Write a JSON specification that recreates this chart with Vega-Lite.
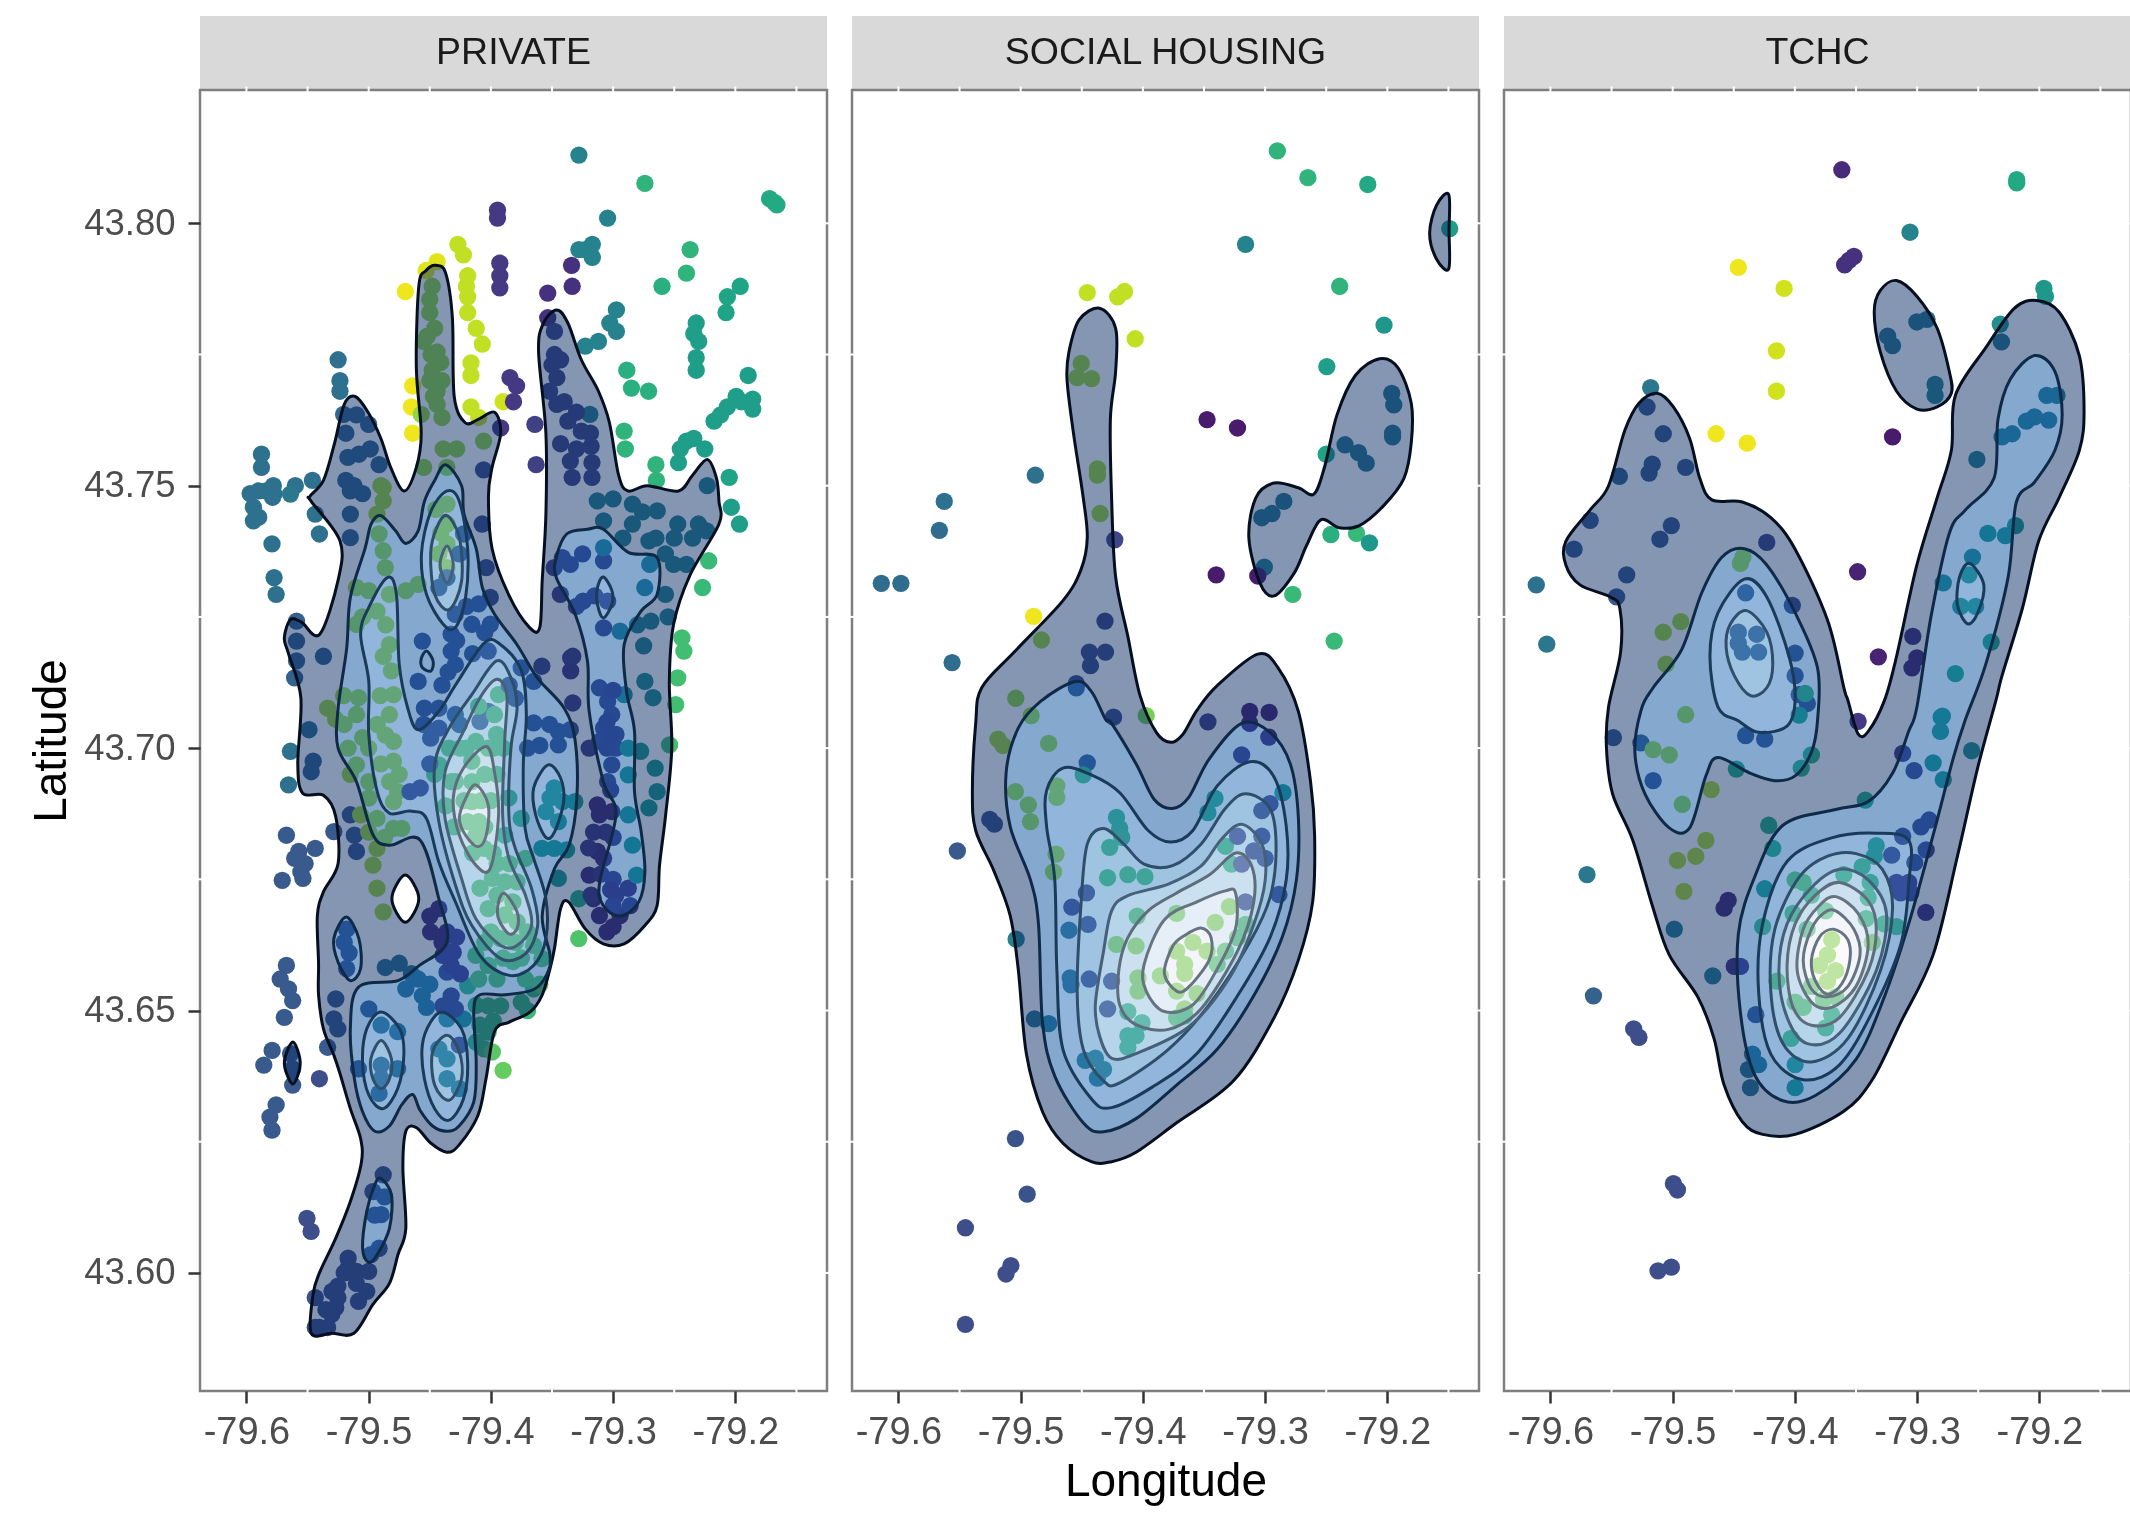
{"$schema":"https://vega.github.io/schema/vega-lite/v6.json","background":"white","autosize":{"type":"pad"},"padding":{"left":27,"top":16,"right":0,"bottom":0},"config":{"font":"Liberation Sans","locale":{"number":{"decimal":".","thousands":",","grouping":[3],"currency":["$",""],"minus":"-"}},"axisX":{"labelFontSize":38,"labelPadding":10,"titlePadding":8},"axisY":{"labelFontSize":36.5,"labelPadding":13,"titlePadding":8},"axis":{"grid":false,"domain":false,"labelColor":"#4d4d4d","tickColor":"#333333","tickWidth":2.5,"tickSize":12,"titleFontSize":46,"titleFontWeight":"normal","titleColor":"#000000"}},"datasets":{
"inv":[{"x":-79.638,"x2":-79.125,"y":43.5775,"y2":43.8254}],
"gt":[{"x":-79.6,"y":43.8254},{"x":-79.55,"y":43.8254},{"x":-79.5,"y":43.8254},{"x":-79.45,"y":43.8254},{"x":-79.4,"y":43.8254},{"x":-79.35,"y":43.8254},{"x":-79.3,"y":43.8254},{"x":-79.25,"y":43.8254},{"x":-79.2,"y":43.8254},{"x":-79.15,"y":43.8254},{"x":-79.55,"y":43.5775},{"x":-79.45,"y":43.5775},{"x":-79.35,"y":43.5775},{"x":-79.25,"y":43.5775},{"x":-79.15,"y":43.5775}],
"gr":[{"x":-79.125,"y":43.6},{"x":-79.125,"y":43.625},{"x":-79.125,"y":43.65},{"x":-79.125,"y":43.675},{"x":-79.125,"y":43.7},{"x":-79.125,"y":43.725},{"x":-79.125,"y":43.75},{"x":-79.125,"y":43.775},{"x":-79.125,"y":43.8},{"x":-79.638,"y":43.625},{"x":-79.638,"y":43.675},{"x":-79.638,"y":43.725},{"x":-79.638,"y":43.775}],
"pa":[{"x":-79.328,"y":43.813,"w":20},{"x":-79.274,"y":43.8076,"w":29},{"x":-79.168,"y":43.804,"w":27},{"x":-79.166,"y":43.8035,"w":27},{"x":-79.172,"y":43.8047,"w":27},{"x":-79.3045,"y":43.801,"w":20},{"x":-79.3946,"y":43.8025,"w":8},{"x":-79.3946,"y":43.801,"w":8},{"x":-79.328,"y":43.795,"w":20},{"x":-79.317,"y":43.796,"w":20},{"x":-79.317,"y":43.7935,"w":20},{"x":-79.3227,"y":43.795,"w":20},{"x":-79.237,"y":43.795,"w":29},{"x":-79.24,"y":43.7905,"w":29},{"x":-79.26,"y":43.788,"w":28},{"x":-79.196,"y":43.788,"w":26},{"x":-79.2065,"y":43.786,"w":26},{"x":-79.2076,"y":43.783,"w":26},{"x":-79.334,"y":43.792,"w":7},{"x":-79.3335,"y":43.788,"w":7},{"x":-79.3535,"y":43.7867,"w":7},{"x":-79.3535,"y":43.782,"w":7},{"x":-79.3927,"y":43.7924,"w":8},{"x":-79.3927,"y":43.79,"w":8},{"x":-79.3927,"y":43.7877,"w":8},{"x":-79.427,"y":43.796,"w":40},{"x":-79.4225,"y":43.794,"w":40},{"x":-79.444,"y":43.7927,"w":42},{"x":-79.453,"y":43.791,"w":42},{"x":-79.47,"y":43.787,"w":43},{"x":-79.419,"y":43.79,"w":40},{"x":-79.42,"y":43.788,"w":40},{"x":-79.419,"y":43.786,"w":40},{"x":-79.419,"y":43.783,"w":40},{"x":-79.412,"y":43.78,"w":40},{"x":-79.407,"y":43.777,"w":40},{"x":-79.4163,"y":43.7734,"w":40},{"x":-79.4163,"y":43.771,"w":40},{"x":-79.4163,"y":43.765,"w":40},{"x":-79.41,"y":43.763,"w":40},{"x":-79.39,"y":43.766,"w":41},{"x":-79.464,"y":43.769,"w":43},{"x":-79.465,"y":43.765,"w":43},{"x":-79.464,"y":43.76,"w":43},{"x":-79.448,"y":43.788,"w":37},{"x":-79.45,"y":43.783,"w":37},{"x":-79.455,"y":43.7775,"w":37},{"x":-79.444,"y":43.7755,"w":37},{"x":-79.448,"y":43.772,"w":37},{"x":-79.444,"y":43.768,"w":37},{"x":-79.444,"y":43.7655,"w":37},{"x":-79.457,"y":43.7636,"w":37},{"x":-79.439,"y":43.757,"w":37},{"x":-79.428,"y":43.757,"w":37},{"x":-79.406,"y":43.7585,"w":37},{"x":-79.455,"y":43.7535,"w":37},{"x":-79.49,"y":43.75,"w":37},{"x":-79.3844,"y":43.7706,"w":8},{"x":-79.379,"y":43.769,"w":8},{"x":-79.3815,"y":43.766,"w":8},{"x":-79.392,"y":43.761,"w":8},{"x":-79.364,"y":43.7617,"w":9},{"x":-79.363,"y":43.754,"w":9},{"x":-79.406,"y":43.753,"w":11},{"x":-79.348,"y":43.7794,"w":10},{"x":-79.348,"y":43.775,"w":10},{"x":-79.346,"y":43.7706,"w":10},{"x":-79.346,"y":43.7655,"w":10},{"x":-79.337,"y":43.7623,"w":10},{"x":-79.326,"y":43.7604,"w":10},{"x":-79.3186,"y":43.76,"w":10},{"x":-79.335,"y":43.7547,"w":10},{"x":-79.3335,"y":43.7516,"w":10},{"x":-79.3173,"y":43.7544,"w":10},{"x":-79.3173,"y":43.7516,"w":10},{"x":-79.319,"y":43.7636,"w":19},{"x":-79.3227,"y":43.7766,"w":20},{"x":-79.312,"y":43.7775,"w":20},{"x":-79.2973,"y":43.7835,"w":20},{"x":-79.3027,"y":43.781,"w":20},{"x":-79.2973,"y":43.7794,"w":20},{"x":-79.2888,"y":43.772,"w":28},{"x":-79.285,"y":43.7686,"w":28},{"x":-79.271,"y":43.768,"w":28},{"x":-79.232,"y":43.781,"w":25},{"x":-79.234,"y":43.779,"w":25},{"x":-79.232,"y":43.7744,"w":25},{"x":-79.232,"y":43.772,"w":25},{"x":-79.1895,"y":43.771,"w":25},{"x":-79.1858,"y":43.7665,"w":25},{"x":-79.1858,"y":43.7646,"w":25},{"x":-79.1993,"y":43.767,"w":25},{"x":-79.2065,"y":43.765,"w":25},{"x":-79.2174,"y":43.7623,"w":25},{"x":-79.225,"y":43.757,"w":25},{"x":-79.234,"y":43.759,"w":25},{"x":-79.245,"y":43.757,"w":25},{"x":-79.2465,"y":43.7544,"w":25},{"x":-79.291,"y":43.7604,"w":29},{"x":-79.29,"y":43.757,"w":29},{"x":-79.265,"y":43.754,"w":29},{"x":-79.2646,"y":43.751,"w":29},{"x":-79.205,"y":43.7516,"w":26},{"x":-79.223,"y":43.75,"w":20},{"x":-79.525,"y":43.774,"w":17},{"x":-79.5235,"y":43.77,"w":17},{"x":-79.5235,"y":43.768,"w":17},{"x":-79.5877,"y":43.756,"w":17},{"x":-79.5877,"y":43.7535,"w":17},{"x":-79.584,"y":43.749,"w":16},{"x":-79.5786,"y":43.7478,"w":16},{"x":-79.56,"y":43.75,"w":17},{"x":-79.546,"y":43.751,"w":17},{"x":-79.5205,"y":43.7636,"w":15},{"x":-79.5187,"y":43.76,"w":15},{"x":-79.517,"y":43.7554,"w":15},{"x":-79.5187,"y":43.751,"w":15},{"x":-79.5,"y":43.7617,"w":15},{"x":-79.4987,"y":43.757,"w":15},{"x":-79.4915,"y":43.754,"w":15},{"x":-79.5775,"y":43.7484,"w":17},{"x":-79.5943,"y":43.7459,"w":17},{"x":-79.5943,"y":43.7433,"w":17},{"x":-79.5791,"y":43.7389,"w":17},{"x":-79.5774,"y":43.7325,"w":17},{"x":-79.5757,"y":43.7293,"w":17},{"x":-79.564,"y":43.7484,"w":18},{"x":-79.5437,"y":43.7446,"w":17},{"x":-79.5403,"y":43.7408,"w":17},{"x":-79.515,"y":43.749,"w":15},{"x":-79.515,"y":43.7446,"w":15},{"x":-79.515,"y":43.7401,"w":15},{"x":-79.559,"y":43.7242,"w":14},{"x":-79.559,"y":43.7204,"w":14},{"x":-79.559,"y":43.7166,"w":14},{"x":-79.5606,"y":43.7134,"w":14},{"x":-79.537,"y":43.7175,"w":14},{"x":-79.5488,"y":43.7035,"w":16},{"x":-79.564,"y":43.6994,"w":17},{"x":-79.5454,"y":43.6975,"w":14},{"x":-79.547,"y":43.6955,"w":14},{"x":-79.5656,"y":43.693,"w":17},{"x":-79.5285,"y":43.6841,"w":13},{"x":-79.515,"y":43.6873,"w":13},{"x":-79.5117,"y":43.6834,"w":13},{"x":-79.51,"y":43.6803,"w":13},{"x":-79.5673,"y":43.6834,"w":13},{"x":-79.5572,"y":43.6803,"w":13},{"x":-79.5437,"y":43.6809,"w":13},{"x":-79.5555,"y":43.6764,"w":13},{"x":-79.5707,"y":43.6748,"w":13},{"x":-79.5538,"y":43.6752,"w":13},{"x":-79.5673,"y":43.6586,"w":13},{"x":-79.5724,"y":43.656,"w":13},{"x":-79.5656,"y":43.6541,"w":13},{"x":-79.5622,"y":43.6519,"w":13},{"x":-79.569,"y":43.6487,"w":13},{"x":-79.579,"y":43.6424,"w":13},{"x":-79.5858,"y":43.6396,"w":13},{"x":-79.5639,"y":43.6418,"w":13},{"x":-79.5622,"y":43.6389,"w":13},{"x":-79.5622,"y":43.6358,"w":13},{"x":-79.5403,"y":43.637,"w":11},{"x":-79.5757,"y":43.632,"w":13},{"x":-79.5808,"y":43.6297,"w":13},{"x":-79.5791,"y":43.6272,"w":13},{"x":-79.5505,"y":43.6104,"w":11},{"x":-79.5471,"y":43.6079,"w":11},{"x":-79.5269,"y":43.6522,"w":13},{"x":-79.5285,"y":43.6484,"w":13},{"x":-79.5252,"y":43.6465,"w":13},{"x":-79.5336,"y":43.643,"w":13},{"x":-79.4881,"y":43.6187,"w":12},{"x":-79.4965,"y":43.6155,"w":12},{"x":-79.4898,"y":43.6111,"w":12},{"x":-79.4915,"y":43.6047,"w":12},{"x":-79.4982,"y":43.6035,"w":12},{"x":-79.5168,"y":43.6028,"w":11},{"x":-79.51,"y":43.6003,"w":11},{"x":-79.5,"y":43.6003,"w":11},{"x":-79.5168,"y":43.601,"w":11},{"x":-79.5252,"y":43.5975,"w":11},{"x":-79.5252,"y":43.5953,"w":11},{"x":-79.5016,"y":43.5965,"w":11},{"x":-79.5083,"y":43.5946,"w":11},{"x":-79.5302,"y":43.5921,"w":11},{"x":-79.5403,"y":43.5896,"w":11},{"x":-79.5437,"y":43.5953,"w":11},{"x":-79.5437,"y":43.5896,"w":11},{"x":-79.5336,"y":43.5896,"w":11},{"x":-79.5269,"y":43.5934,"w":11},{"x":-79.4999,"y":43.6503,"w":13},{"x":-79.4898,"y":43.6472,"w":17},{"x":-79.4763,"y":43.646,"w":17},{"x":-79.5083,"y":43.6389,"w":13},{"x":-79.4898,"y":43.6396,"w":15},{"x":-79.4898,"y":43.637,"w":15},{"x":-79.4915,"y":43.6342,"w":15},{"x":-79.4763,"y":43.6389,"w":17},{"x":-79.4359,"y":43.6408,"w":20},{"x":-79.4426,"y":43.6427,"w":20},{"x":-79.4359,"y":43.637,"w":20},{"x":-79.4258,"y":43.6351,"w":20},{"x":-79.4359,"y":43.6484,"w":20},{"x":-79.4224,"y":43.6484,"w":22},{"x":-79.4258,"y":43.6434,"w":9},{"x":-79.4325,"y":43.6528,"w":9},{"x":-79.4392,"y":43.6509,"w":9},{"x":-79.4291,"y":43.6503,"w":9},{"x":-79.4359,"y":43.6573,"w":9},{"x":-79.4595,"y":43.656,"w":17},{"x":-79.4696,"y":43.6541,"w":17},{"x":-79.4561,"y":43.6528,"w":17},{"x":-79.4527,"y":43.6506,"w":17},{"x":-79.4864,"y":43.6582,"w":17},{"x":-79.419,"y":43.6547,"w":30},{"x":-79.4022,"y":43.6509,"w":30},{"x":-79.392,"y":43.6509,"w":30},{"x":-79.4089,"y":43.6472,"w":30},{"x":-79.4022,"y":43.6459,"w":30},{"x":-79.4055,"y":43.6427,"w":30},{"x":-79.3752,"y":43.6516,"w":30},{"x":-79.365,"y":43.6541,"w":30},{"x":-79.3988,"y":43.6421,"w":33},{"x":-79.39,"y":43.6386,"w":34},{"x":-79.4881,"y":43.7497,"w":38},{"x":-79.4881,"y":43.7471,"w":38},{"x":-79.4932,"y":43.7446,"w":38},{"x":-79.4915,"y":43.7408,"w":38},{"x":-79.4881,"y":43.7376,"w":38},{"x":-79.4864,"y":43.7344,"w":38},{"x":-79.483,"y":43.7293,"w":38},{"x":-79.4932,"y":43.7261,"w":38},{"x":-79.51,"y":43.7306,"w":38},{"x":-79.51,"y":43.7236,"w":38},{"x":-79.4696,"y":43.73,"w":38},{"x":-79.4595,"y":43.7312,"w":38},{"x":-79.483,"y":43.7197,"w":38},{"x":-79.4814,"y":43.7147,"w":38},{"x":-79.4797,"y":43.7102,"w":38},{"x":-79.483,"y":43.7064,"w":38},{"x":-79.4864,"y":43.7025,"w":38},{"x":-79.4797,"y":43.7013,"w":38},{"x":-79.4797,"y":43.6975,"w":38},{"x":-79.483,"y":43.6936,"w":38},{"x":-79.4763,"y":43.6917,"w":38},{"x":-79.4797,"y":43.6898,"w":38},{"x":-79.5083,"y":43.7096,"w":38},{"x":-79.51,"y":43.7064,"w":38},{"x":-79.5201,"y":43.7045,"w":38},{"x":-79.5336,"y":43.7076,"w":38},{"x":-79.5168,"y":43.7,"w":38},{"x":-79.51,"y":43.6968,"w":38},{"x":-79.4999,"y":43.6936,"w":38},{"x":-79.5066,"y":43.6873,"w":38},{"x":-79.4999,"y":43.6905,"w":38},{"x":-79.4932,"y":43.6866,"w":38},{"x":-79.4797,"y":43.6847,"w":38},{"x":-79.473,"y":43.6847,"w":38},{"x":-79.4932,"y":43.6809,"w":38},{"x":-79.4965,"y":43.6777,"w":38},{"x":-79.4932,"y":43.6733,"w":38},{"x":-79.4881,"y":43.6688,"w":38},{"x":-79.4359,"y":43.7465,"w":38},{"x":-79.4359,"y":43.7427,"w":38},{"x":-79.4359,"y":43.7389,"w":38},{"x":-79.4426,"y":43.737,"w":38},{"x":-79.4359,"y":43.7344,"w":38},{"x":-79.4359,"y":43.7325,"w":13},{"x":-79.4426,"y":43.7306,"w":13},{"x":-79.4224,"y":43.7408,"w":13},{"x":-79.4258,"y":43.737,"w":13},{"x":-79.4072,"y":43.7427,"w":11},{"x":-79.4038,"y":43.7344,"w":11},{"x":-79.4005,"y":43.7287,"w":11},{"x":-79.4291,"y":43.7255,"w":11},{"x":-79.4156,"y":43.7236,"w":11},{"x":-79.4325,"y":43.7217,"w":11},{"x":-79.4005,"y":43.7236,"w":11},{"x":-79.4325,"y":43.7185,"w":11},{"x":-79.4291,"y":43.7159,"w":11},{"x":-79.4595,"y":43.7127,"w":11},{"x":-79.4561,"y":43.7204,"w":11},{"x":-79.4544,"y":43.7076,"w":11},{"x":-79.4426,"y":43.7076,"w":11},{"x":-79.4426,"y":43.7038,"w":11},{"x":-79.4493,"y":43.7019,"w":11},{"x":-79.4022,"y":43.7185,"w":11},{"x":-79.3752,"y":43.7153,"w":11},{"x":-79.365,"y":43.7127,"w":11},{"x":-79.365,"y":43.7048,"w":11},{"x":-79.3448,"y":43.7032,"w":11},{"x":-79.3448,"y":43.7006,"w":11},{"x":-79.3583,"y":43.7156,"w":10},{"x":-79.333,"y":43.7086,"w":9},{"x":-79.3347,"y":43.7172,"w":8},{"x":-79.3347,"y":43.7147,"w":8},{"x":-79.4022,"y":43.707,"w":13},{"x":-79.4089,"y":43.7051,"w":13},{"x":-79.4291,"y":43.7064,"w":13},{"x":-79.4258,"y":43.7045,"w":13},{"x":-79.4578,"y":43.6924,"w":10},{"x":-79.4662,"y":43.6917,"w":10},{"x":-79.3938,"y":43.7102,"w":32},{"x":-79.3971,"y":43.7064,"w":32},{"x":-79.4123,"y":43.7013,"w":32},{"x":-79.3954,"y":43.7026,"w":32},{"x":-79.4342,"y":43.7,"w":32},{"x":-79.4156,"y":43.6975,"w":32},{"x":-79.4022,"y":43.7,"w":32},{"x":-79.4291,"y":43.6936,"w":32},{"x":-79.4156,"y":43.6936,"w":32},{"x":-79.4156,"y":43.6898,"w":32},{"x":-79.419,"y":43.686,"w":32},{"x":-79.4123,"y":43.6834,"w":32},{"x":-79.4055,"y":43.6809,"w":32},{"x":-79.4325,"y":43.6936,"w":32},{"x":-79.4426,"y":43.6968,"w":32},{"x":-79.446,"y":43.695,"w":32},{"x":-79.3853,"y":43.6905,"w":30},{"x":-79.3752,"y":43.6866,"w":30},{"x":-79.3887,"y":43.6834,"w":30},{"x":-79.3718,"y":43.679,"w":33},{"x":-79.3988,"y":43.6752,"w":33},{"x":-79.3887,"y":43.6745,"w":33},{"x":-79.3786,"y":43.6745,"w":33},{"x":-79.382,"y":43.6707,"w":33},{"x":-79.3887,"y":43.6682,"w":33},{"x":-79.3786,"y":43.6669,"w":33},{"x":-79.4022,"y":43.6694,"w":33},{"x":-79.4089,"y":43.6733,"w":33},{"x":-79.392,"y":43.6637,"w":33},{"x":-79.4123,"y":43.6605,"w":33},{"x":-79.4022,"y":43.6586,"w":33},{"x":-79.382,"y":43.6593,"w":33},{"x":-79.3651,"y":43.6624,"w":33},{"x":-79.3583,"y":43.6599,"w":33},{"x":-79.3718,"y":43.656,"w":33},{"x":-79.3516,"y":43.6905,"w":25},{"x":-79.355,"y":43.6879,"w":25},{"x":-79.3482,"y":43.6924,"w":25},{"x":-79.3415,"y":43.6898,"w":25},{"x":-79.3448,"y":43.686,"w":25},{"x":-79.3313,"y":43.6898,"w":25},{"x":-79.3583,"y":43.6809,"w":25},{"x":-79.3482,"y":43.6809,"w":25},{"x":-79.3381,"y":43.6806,"w":25},{"x":-79.3448,"y":43.6752,"w":25},{"x":-79.3129,"y":43.6892,"w":6},{"x":-79.3112,"y":43.6873,"w":6},{"x":-79.3011,"y":43.6879,"w":6},{"x":-79.3129,"y":43.6803,"w":6},{"x":-79.3196,"y":43.6758,"w":6},{"x":-79.3078,"y":43.679,"w":6},{"x":-79.3162,"y":43.6713,"w":6},{"x":-79.3112,"y":43.6681,"w":6},{"x":-79.2977,"y":43.672,"w":6},{"x":-79.2876,"y":43.6733,"w":6},{"x":-79.2943,"y":43.6681,"w":6},{"x":-79.4426,"y":43.6694,"w":7},{"x":-79.4493,"y":43.665,"w":7},{"x":-79.4359,"y":43.665,"w":7},{"x":-79.4308,"y":43.6611,"w":7},{"x":-79.4325,"y":43.6586,"w":7},{"x":-79.4392,"y":43.6605,"w":7},{"x":-79.3415,"y":43.7363,"w":9},{"x":-79.3482,"y":43.7344,"w":9},{"x":-79.3432,"y":43.7293,"w":9},{"x":-79.3246,"y":43.728,"w":9},{"x":-79.3078,"y":43.7357,"w":9},{"x":-79.3045,"y":43.728,"w":9},{"x":-79.3078,"y":43.7229,"w":9},{"x":-79.333,"y":43.7175,"w":9},{"x":-79.3112,"y":43.7115,"w":9},{"x":-79.3045,"y":43.7089,"w":9},{"x":-79.3011,"y":43.7064,"w":9},{"x":-79.3078,"y":43.7038,"w":9},{"x":-79.3112,"y":43.7013,"w":9},{"x":-79.2977,"y":43.7,"w":9},{"x":-79.3011,"y":43.6968,"w":9},{"x":-79.3045,"y":43.6936,"w":9},{"x":-79.3196,"y":43.7,"w":9},{"x":-79.2977,"y":43.7026,"w":9},{"x":-79.3129,"y":43.7471,"w":20},{"x":-79.3078,"y":43.7433,"w":20},{"x":-79.3078,"y":43.7382,"w":20},{"x":-79.2842,"y":43.7465,"w":20},{"x":-79.2639,"y":43.7452,"w":20},{"x":-79.2842,"y":43.7427,"w":20},{"x":-79.2707,"y":43.7395,"w":20},{"x":-79.2572,"y":43.737,"w":20},{"x":-79.2471,"y":43.7427,"w":20},{"x":-79.2302,"y":43.7427,"w":20},{"x":-79.2235,"y":43.7414,"w":20},{"x":-79.2505,"y":43.735,"w":20},{"x":-79.2741,"y":43.7306,"w":20},{"x":-79.2572,"y":43.7293,"w":20},{"x":-79.2691,"y":43.7242,"w":20},{"x":-79.2943,"y":43.7223,"w":20},{"x":-79.2033,"y":43.7459,"w":25},{"x":-79.1966,"y":43.7427,"w":25},{"x":-79.2218,"y":43.7357,"w":30},{"x":-79.2268,"y":43.7306,"w":30},{"x":-79.2437,"y":43.721,"w":31},{"x":-79.2421,"y":43.7185,"w":31},{"x":-79.2471,"y":43.7134,"w":31},{"x":-79.2488,"y":43.7083,"w":31},{"x":-79.2538,"y":43.7006,"w":31},{"x":-79.274,"y":43.7127,"w":22},{"x":-79.2673,"y":43.7096,"w":22},{"x":-79.291,"y":43.7102,"w":22},{"x":-79.2877,"y":43.7,"w":24},{"x":-79.2775,"y":43.6994,"w":24},{"x":-79.2656,"y":43.6962,"w":24},{"x":-79.264,"y":43.6917,"w":24},{"x":-79.2707,"y":43.6886,"w":24},{"x":-79.2876,"y":43.6949,"w":24},{"x":-79.2876,"y":43.6873,"w":24},{"x":-79.2842,"y":43.6815,"w":24},{"x":-79.2808,"y":43.6758,"w":24},{"x":-79.3281,"y":43.6713,"w":28},{"x":-79.3281,"y":43.6637,"w":32},{"x":-79.486,"y":43.7235,"w":38},{"x":-79.488,"y":43.7175,"w":38},{"x":-79.4905,"y":43.71,"w":38},{"x":-79.493,"y":43.7045,"w":38},{"x":-79.5,"y":43.7,"w":38},{"x":-79.505,"y":43.702,"w":38},{"x":-79.49,"y":43.697,"w":38},{"x":-79.475,"y":43.695,"w":38},{"x":-79.5,"y":43.684,"w":38},{"x":-79.487,"y":43.683,"w":38},{"x":-79.5205,"y":43.71,"w":38},{"x":-79.527,"y":43.7055,"w":38},{"x":-79.515,"y":43.695,"w":38},{"x":-79.505,"y":43.725,"w":38},{"x":-79.5,"y":43.73,"w":38},{"x":-79.445,"y":43.7455,"w":38},{"x":-79.441,"y":43.741,"w":38},{"x":-79.45,"y":43.7855,"w":37},{"x":-79.446,"y":43.78,"w":37},{"x":-79.449,"y":43.775,"w":37},{"x":-79.441,"y":43.7735,"w":37},{"x":-79.45,"y":43.77,"w":37},{"x":-79.44,"y":43.77,"w":37},{"x":-79.447,"y":43.767,"w":37},{"x":-79.44,"y":43.763,"w":37},{"x":-79.436,"y":43.7535,"w":37},{"x":-79.452,"y":43.7785,"w":37},{"x":-79.398,"y":43.7,"w":32},{"x":-79.405,"y":43.695,"w":32},{"x":-79.42,"y":43.7,"w":32},{"x":-79.395,"y":43.695,"w":32},{"x":-79.425,"y":43.7,"w":32},{"x":-79.408,"y":43.69,"w":32},{"x":-79.4,"y":43.69,"w":32},{"x":-79.422,"y":43.69,"w":32},{"x":-79.41,"y":43.686,"w":32},{"x":-79.405,"y":43.685,"w":32},{"x":-79.398,"y":43.68,"w":32},{"x":-79.415,"y":43.68,"w":32},{"x":-79.437,"y":43.689,"w":32},{"x":-79.43,"y":43.685,"w":32},{"x":-79.39,"y":43.7,"w":32},{"x":-79.41,"y":43.708,"w":32},{"x":-79.385,"y":43.678,"w":33},{"x":-79.395,"y":43.678,"w":33},{"x":-79.38,"y":43.663,"w":33},{"x":-79.395,"y":43.672,"w":33},{"x":-79.4,"y":43.665,"w":33},{"x":-79.37,"y":43.665,"w":33},{"x":-79.375,"y":43.66,"w":33},{"x":-79.39,"y":43.66,"w":33},{"x":-79.405,"y":43.663,"w":33},{"x":-79.41,"y":43.656,"w":33},{"x":-79.395,"y":43.656,"w":33},{"x":-79.36,"y":43.655,"w":33},{"x":-79.44,"y":43.712,"w":11},{"x":-79.435,"y":43.7145,"w":11},{"x":-79.428,"y":43.7205,"w":11},{"x":-79.42,"y":43.727,"w":11},{"x":-79.415,"y":43.718,"w":11},{"x":-79.41,"y":43.7275,"w":11},{"x":-79.405,"y":43.722,"w":11},{"x":-79.385,"y":43.712,"w":11},{"x":-79.38,"y":43.7095,"w":11},{"x":-79.37,"y":43.7,"w":11},{"x":-79.36,"y":43.7005,"w":11},{"x":-79.352,"y":43.7045,"w":11},{"x":-79.45,"y":43.697,"w":11},{"x":-79.455,"y":43.7045,"w":11},{"x":-79.335,"y":43.7035,"w":11},{"x":-79.302,"y":43.7025,"w":8},{"x":-79.305,"y":43.7,"w":8},{"x":-79.302,"y":43.692,"w":8},{"x":-79.306,"y":43.684,"w":8},{"x":-79.3,"y":43.683,"w":8},{"x":-79.316,"y":43.684,"w":8},{"x":-79.32,"y":43.681,"w":8},{"x":-79.31,"y":43.676,"w":8},{"x":-79.3,"y":43.675,"w":8},{"x":-79.3,"y":43.67,"w":8},{"x":-79.286,"y":43.67,"w":8},{"x":-79.318,"y":43.672,"w":8},{"x":-79.305,"y":43.705,"w":8},{"x":-79.3,"y":43.711,"w":8},{"x":-79.3,"y":43.7475,"w":20},{"x":-79.292,"y":43.74,"w":20},{"x":-79.276,"y":43.745,"w":20},{"x":-79.265,"y":43.74,"w":20},{"x":-79.27,"y":43.735,"w":20},{"x":-79.25,"y":43.74,"w":20},{"x":-79.24,"y":43.735,"w":20},{"x":-79.235,"y":43.74,"w":20},{"x":-79.255,"y":43.725,"w":20},{"x":-79.28,"y":43.7235,"w":20},{"x":-79.275,"y":43.7195,"w":20},{"x":-79.51,"y":43.7635,"w":15},{"x":-79.508,"y":43.756,"w":15},{"x":-79.512,"y":43.75,"w":15},{"x":-79.505,"y":43.7485,"w":15},{"x":-79.578,"y":43.75,"w":17},{"x":-79.59,"y":43.749,"w":17},{"x":-79.597,"y":43.7485,"w":17},{"x":-79.59,"y":43.744,"w":17},{"x":-79.5605,"y":43.679,"w":13},{"x":-79.552,"y":43.678,"w":13},{"x":-79.35,"y":43.773,"w":10},{"x":-79.343,"y":43.774,"w":10},{"x":-79.352,"y":43.768,"w":10},{"x":-79.34,"y":43.766,"w":10},{"x":-79.33,"y":43.764,"w":10},{"x":-79.343,"y":43.758,"w":10},{"x":-79.33,"y":43.757,"w":10},{"x":-79.318,"y":43.7575,"w":10},{"x":-79.51,"y":43.598,"w":11},{"x":-79.52,"y":43.6,"w":11},{"x":-79.535,"y":43.593,"w":11},{"x":-79.53,"y":43.5965,"w":11},{"x":-79.495,"y":43.611,"w":12},{"x":-79.487,"y":43.6145,"w":12},{"x":-79.195,"y":43.766,"w":25},{"x":-79.212,"y":43.7635,"w":25},{"x":-79.24,"y":43.7585,"w":25},{"x":-79.23,"y":43.7775,"w":25},{"x":-79.335,"y":43.735,"w":9},{"x":-79.325,"y":43.737,"w":9},{"x":-79.315,"y":43.729,"w":9},{"x":-79.33,"y":43.727,"w":9},{"x":-79.44,"y":43.663,"w":7},{"x":-79.428,"y":43.664,"w":7},{"x":-79.45,"y":43.668,"w":7},{"x":-79.425,"y":43.657,"w":7},{"x":-79.465,"y":43.657,"w":17},{"x":-79.45,"y":43.655,"w":17},{"x":-79.475,"y":43.659,"w":17},{"x":-79.412,"y":43.651,"w":30},{"x":-79.398,"y":43.648,"w":30},{"x":-79.412,"y":43.644,"w":30},{"x":-79.37,"y":43.65,"w":30},{"x":-79.305,"y":43.665,"w":6},{"x":-79.3,"y":43.666,"w":6},{"x":-79.302,"y":43.673,"w":6},{"x":-79.518,"y":43.6655,"w":12},{"x":-79.516,"y":43.661,"w":12},{"x":-79.518,"y":43.658,"w":12},{"x":-79.52,"y":43.663,"w":12}],
"ca":[{"g":"o","l":1,"x":-79.537,"y":43.751},{"g":"o","l":1,"x":-79.528,"y":43.758},{"g":"o","l":1,"x":-79.52,"y":43.7655},{"g":"o","l":1,"x":-79.511,"y":43.767},{"g":"o","l":1,"x":-79.5005,"y":43.764},{"g":"o","l":1,"x":-79.49,"y":43.759},{"g":"o","l":1,"x":-79.482,"y":43.7535},{"g":"o","l":1,"x":-79.471,"y":43.749},{"g":"o","l":1,"x":-79.461,"y":43.7535},{"g":"o","l":1,"x":-79.457,"y":43.76},{"g":"o","l":1,"x":-79.461,"y":43.7725},{"g":"o","l":1,"x":-79.459,"y":43.788},{"g":"o","l":1,"x":-79.453,"y":43.791},{"g":"o","l":1,"x":-79.445,"y":43.792},{"g":"o","l":1,"x":-79.437,"y":43.7905},{"g":"o","l":1,"x":-79.4315,"y":43.782},{"g":"o","l":1,"x":-79.43,"y":43.767},{"g":"o","l":1,"x":-79.421,"y":43.762},{"g":"o","l":1,"x":-79.41,"y":43.7627},{"g":"o","l":1,"x":-79.397,"y":43.764},{"g":"o","l":1,"x":-79.392,"y":43.76},{"g":"o","l":1,"x":-79.399,"y":43.7535},{"g":"o","l":1,"x":-79.402,"y":43.748},{"g":"o","l":1,"x":-79.399,"y":43.738},{"g":"o","l":1,"x":-79.385,"y":43.729},{"g":"o","l":1,"x":-79.3685,"y":43.723},{"g":"o","l":1,"x":-79.36,"y":43.723},{"g":"o","l":1,"x":-79.358,"y":43.732},{"g":"o","l":1,"x":-79.355,"y":43.7445},{"g":"o","l":1,"x":-79.355,"y":43.76},{"g":"o","l":1,"x":-79.361,"y":43.7756},{"g":"o","l":1,"x":-79.357,"y":43.781},{"g":"o","l":1,"x":-79.346,"y":43.7835},{"g":"o","l":1,"x":-79.337,"y":43.781},{"g":"o","l":1,"x":-79.326,"y":43.774},{"g":"o","l":1,"x":-79.312,"y":43.768},{"g":"o","l":1,"x":-79.303,"y":43.762},{"g":"o","l":1,"x":-79.2955,"y":43.752},{"g":"o","l":1,"x":-79.288,"y":43.749},{"g":"o","l":1,"x":-79.272,"y":43.75},{"g":"o","l":1,"x":-79.2465,"y":43.749},{"g":"o","l":1,"x":-79.235,"y":43.752},{"g":"o","l":1,"x":-79.223,"y":43.755},{"g":"o","l":1,"x":-79.2155,"y":43.7515},{"g":"o","l":1,"x":-79.2134,"y":43.747},{"g":"o","l":1,"x":-79.2134,"y":43.7427},{"g":"o","l":1,"x":-79.237,"y":43.733},{"g":"o","l":1,"x":-79.2505,"y":43.7236},{"g":"o","l":1,"x":-79.254,"y":43.7127},{"g":"o","l":1,"x":-79.252,"y":43.7},{"g":"o","l":1,"x":-79.257,"y":43.6873},{"g":"o","l":1,"x":-79.262,"y":43.6777},{"g":"o","l":1,"x":-79.264,"y":43.67},{"g":"o","l":1,"x":-79.274,"y":43.6662},{"g":"o","l":1,"x":-79.291,"y":43.6627},{"g":"o","l":1,"x":-79.308,"y":43.6627},{"g":"o","l":1,"x":-79.323,"y":43.6656},{"g":"o","l":1,"x":-79.3365,"y":43.6707},{"g":"o","l":1,"x":-79.343,"y":43.6694},{"g":"o","l":1,"x":-79.348,"y":43.6618},{"g":"o","l":1,"x":-79.3516,"y":43.658},{"g":"o","l":1,"x":-79.358,"y":43.653},{"g":"o","l":1,"x":-79.368,"y":43.6497},{"g":"o","l":1,"x":-79.385,"y":43.6478},{"g":"o","l":1,"x":-79.397,"y":43.646},{"g":"o","l":1,"x":-79.404,"y":43.637},{"g":"o","l":1,"x":-79.4106,"y":43.63},{"g":"o","l":1,"x":-79.426,"y":43.6244},{"g":"o","l":1,"x":-79.436,"y":43.623},{"g":"o","l":1,"x":-79.449,"y":43.6247},{"g":"o","l":1,"x":-79.461,"y":43.6277},{"g":"o","l":1,"x":-79.4696,"y":43.627},{"g":"o","l":1,"x":-79.472,"y":43.62},{"g":"o","l":1,"x":-79.4696,"y":43.6085},{"g":"o","l":1,"x":-79.476,"y":43.6035},{"g":"o","l":1,"x":-79.483,"y":43.598},{"g":"o","l":1,"x":-79.4965,"y":43.594},{"g":"o","l":1,"x":-79.512,"y":43.5885},{"g":"o","l":1,"x":-79.53,"y":43.5885},{"g":"o","l":1,"x":-79.547,"y":43.5885},{"g":"o","l":1,"x":-79.5454,"y":43.596},{"g":"o","l":1,"x":-79.5403,"y":43.6},{"g":"o","l":1,"x":-79.527,"y":43.6066},{"g":"o","l":1,"x":-79.515,"y":43.6136},{"g":"o","l":1,"x":-79.506,"y":43.621},{"g":"o","l":1,"x":-79.5066,"y":43.6256},{"g":"o","l":1,"x":-79.515,"y":43.6313},{"g":"o","l":1,"x":-79.5235,"y":43.638},{"g":"o","l":1,"x":-79.5285,"y":43.6415},{"g":"o","l":1,"x":-79.537,"y":43.6465},{"g":"o","l":1,"x":-79.541,"y":43.653},{"g":"o","l":1,"x":-79.541,"y":43.659},{"g":"o","l":1,"x":-79.542,"y":43.668},{"g":"o","l":1,"x":-79.537,"y":43.6726},{"g":"o","l":1,"x":-79.525,"y":43.678},{"g":"o","l":1,"x":-79.527,"y":43.687},{"g":"o","l":1,"x":-79.537,"y":43.691},{"g":"o","l":1,"x":-79.554,"y":43.6914},{"g":"o","l":1,"x":-79.558,"y":43.697},{"g":"o","l":1,"x":-79.5555,"y":43.7096},{"g":"o","l":1,"x":-79.5656,"y":43.718},{"g":"o","l":1,"x":-79.569,"y":43.721},{"g":"o","l":1,"x":-79.564,"y":43.7245},{"g":"o","l":1,"x":-79.555,"y":43.724},{"g":"o","l":1,"x":-79.54,"y":43.7217},{"g":"o","l":1,"x":-79.525,"y":43.732},{"g":"o","l":1,"x":-79.5235,"y":43.7395},{"g":"o","l":1,"x":-79.547,"y":43.747},{"g":"o","l":1,"x":-79.548,"y":43.748},
{"g":"i","l":1,"x":-79.562,"y":43.644},{"g":"i","l":1,"x":-79.556,"y":43.64},{"g":"i","l":1,"x":-79.562,"y":43.636},{"g":"i","l":1,"x":-79.569,"y":43.64},
{"g":"h","l":0,"x":-79.47,"y":43.6758},{"g":"h","l":0,"x":-79.459,"y":43.6713},{"g":"h","l":0,"x":-79.47,"y":43.6668},{"g":"h","l":0,"x":-79.481,"y":43.6713},
{"g":"m","l":2,"x":-79.437,"y":43.754},{"g":"m","l":2,"x":-79.424,"y":43.75},{"g":"m","l":2,"x":-79.422,"y":43.7446},{"g":"m","l":2,"x":-79.412,"y":43.738},{"g":"m","l":2,"x":-79.407,"y":43.7306},{"g":"m","l":2,"x":-79.397,"y":43.7255},{"g":"m","l":2,"x":-79.3786,"y":43.7197},{"g":"m","l":2,"x":-79.362,"y":43.7134},{"g":"m","l":2,"x":-79.34,"y":43.7076},{"g":"m","l":2,"x":-79.331,"y":43.7013},{"g":"m","l":2,"x":-79.3297,"y":43.6904},{"g":"m","l":2,"x":-79.336,"y":43.6815},{"g":"m","l":2,"x":-79.348,"y":43.677},{"g":"m","l":2,"x":-79.358,"y":43.668},{"g":"m","l":2,"x":-79.3516,"y":43.6605},{"g":"m","l":2,"x":-79.354,"y":43.657},{"g":"m","l":2,"x":-79.365,"y":43.654},{"g":"m","l":2,"x":-79.389,"y":43.653},{"g":"m","l":2,"x":-79.409,"y":43.653},{"g":"m","l":2,"x":-79.414,"y":43.65},{"g":"m","l":2,"x":-79.412,"y":43.64},{"g":"m","l":2,"x":-79.414,"y":43.6326},{"g":"m","l":2,"x":-79.426,"y":43.628},{"g":"m","l":2,"x":-79.436,"y":43.627},{"g":"m","l":2,"x":-79.4477,"y":43.628},{"g":"m","l":2,"x":-79.458,"y":43.631},{"g":"m","l":2,"x":-79.464,"y":43.634},{"g":"m","l":2,"x":-79.473,"y":43.632},{"g":"m","l":2,"x":-79.483,"y":43.628},{"g":"m","l":2,"x":-79.495,"y":43.627},{"g":"m","l":2,"x":-79.505,"y":43.6307},{"g":"m","l":2,"x":-79.5117,"y":43.637},{"g":"m","l":2,"x":-79.515,"y":43.6465},{"g":"m","l":2,"x":-79.5085,"y":43.6544},{"g":"m","l":2,"x":-79.476,"y":43.6557},{"g":"m","l":2,"x":-79.459,"y":43.6585},{"g":"m","l":2,"x":-79.436,"y":43.663},{"g":"m","l":2,"x":-79.4426,"y":43.6713},{"g":"m","l":2,"x":-79.458,"y":43.6825},{"g":"m","l":2,"x":-79.483,"y":43.6815},{"g":"m","l":2,"x":-79.4965,"y":43.6835},{"g":"m","l":2,"x":-79.51,"y":43.6936},{"g":"m","l":2,"x":-79.525,"y":43.7},{"g":"m","l":2,"x":-79.525,"y":43.7076},{"g":"m","l":2,"x":-79.518,"y":43.719},{"g":"m","l":2,"x":-79.515,"y":43.7287},{"g":"m","l":2,"x":-79.503,"y":43.738},{"g":"m","l":2,"x":-79.498,"y":43.7427},{"g":"m","l":2,"x":-79.49,"y":43.7443},{"g":"m","l":2,"x":-79.478,"y":43.7414},{"g":"m","l":2,"x":-79.4696,"y":43.739},{"g":"m","l":2,"x":-79.4595,"y":43.7414},{"g":"m","l":2,"x":-79.4544,"y":43.747},{"g":"m","l":2,"x":-79.446,"y":43.751},
{"g":"r","l":2,"x":-79.3465,"y":43.7363},{"g":"r","l":2,"x":-79.338,"y":43.7408},{"g":"r","l":2,"x":-79.321,"y":43.7417},{"g":"r","l":2,"x":-79.308,"y":43.7417},{"g":"r","l":2,"x":-79.2876,"y":43.7373},{"g":"r","l":2,"x":-79.264,"y":43.7363},{"g":"r","l":2,"x":-79.264,"y":43.7293},{"g":"r","l":2,"x":-79.2775,"y":43.726},{"g":"r","l":2,"x":-79.291,"y":43.7197},{"g":"r","l":2,"x":-79.289,"y":43.7108},{"g":"r","l":2,"x":-79.2825,"y":43.7032},{"g":"r","l":2,"x":-79.2825,"y":43.6917},{"g":"r","l":2,"x":-79.277,"y":43.684},{"g":"r","l":2,"x":-79.274,"y":43.6764},{"g":"r","l":2,"x":-79.279,"y":43.6707},{"g":"r","l":2,"x":-79.294,"y":43.668},{"g":"r","l":2,"x":-79.308,"y":43.67},{"g":"r","l":2,"x":-79.311,"y":43.6745},{"g":"r","l":2,"x":-79.2977,"y":43.6873},{"g":"r","l":2,"x":-79.308,"y":43.6936},{"g":"r","l":2,"x":-79.3196,"y":43.707},{"g":"r","l":2,"x":-79.321,"y":43.7166},{"g":"r","l":2,"x":-79.331,"y":43.7255},{"g":"r","l":2,"x":-79.3465,"y":43.7325},
{"g":"s","l":2,"x":-79.49,"y":43.618},{"g":"s","l":2,"x":-79.4814,"y":43.6149},{"g":"s","l":2,"x":-79.483,"y":43.6085},{"g":"s","l":2,"x":-79.493,"y":43.6035},{"g":"s","l":2,"x":-79.4999,"y":43.602},{"g":"s","l":2,"x":-79.505,"y":43.6047},{"g":"s","l":2,"x":-79.5016,"y":43.6117},{"g":"s","l":2,"x":-79.495,"y":43.6168},
{"g":"t","l":2,"x":-79.5184,"y":43.6678},{"g":"t","l":2,"x":-79.508,"y":43.6637},{"g":"t","l":2,"x":-79.5066,"y":43.658},{"g":"t","l":2,"x":-79.515,"y":43.6557},{"g":"t","l":2,"x":-79.525,"y":43.6592},{"g":"t","l":2,"x":-79.5285,"y":43.6637},
{"g":"m3","l":3,"x":-79.4847,"y":43.7325},{"g":"m3","l":3,"x":-79.4773,"y":43.7293},{"g":"m3","l":3,"x":-79.475,"y":43.716},{"g":"m3","l":3,"x":-79.468,"y":43.7076},{"g":"m3","l":3,"x":-79.4595,"y":43.7035},{"g":"m3","l":3,"x":-79.4426,"y":43.707},{"g":"m3","l":3,"x":-79.429,"y":43.712},{"g":"m3","l":3,"x":-79.4055,"y":43.72},{"g":"m3","l":3,"x":-79.392,"y":43.7197},{"g":"m3","l":3,"x":-79.375,"y":43.7147},{"g":"m3","l":3,"x":-79.371,"y":43.7064},{"g":"m3","l":3,"x":-79.3735,"y":43.6968},{"g":"m3","l":3,"x":-79.372,"y":43.6847},{"g":"m3","l":3,"x":-79.365,"y":43.679},{"g":"m3","l":3,"x":-79.355,"y":43.6713},{"g":"m3","l":3,"x":-79.355,"y":43.6637},{"g":"m3","l":3,"x":-79.365,"y":43.6586},{"g":"m3","l":3,"x":-79.385,"y":43.6567},{"g":"m3","l":3,"x":-79.409,"y":43.6605},{"g":"m3","l":3,"x":-79.429,"y":43.6707},{"g":"m3","l":3,"x":-79.4426,"y":43.6783},{"g":"m3","l":3,"x":-79.4527,"y":43.6866},{"g":"m3","l":3,"x":-79.466,"y":43.688},{"g":"m3","l":3,"x":-79.483,"y":43.6876},{"g":"m3","l":3,"x":-79.493,"y":43.6917},{"g":"m3","l":3,"x":-79.4999,"y":43.7025},{"g":"m3","l":3,"x":-79.4999,"y":43.7127},{"g":"m3","l":3,"x":-79.5066,"y":43.7217},{"g":"m3","l":3,"x":-79.4999,"y":43.7268},
{"g":"u3","l":3,"x":-79.4359,"y":43.749},{"g":"u3","l":3,"x":-79.4258,"y":43.747},{"g":"u3","l":3,"x":-79.419,"y":43.738},{"g":"u3","l":3,"x":-79.4207,"y":43.7287},{"g":"u3","l":3,"x":-79.429,"y":43.723},{"g":"u3","l":3,"x":-79.439,"y":43.7236},{"g":"u3","l":3,"x":-79.4527,"y":43.7293},{"g":"u3","l":3,"x":-79.4568,"y":43.737},{"g":"u3","l":3,"x":-79.4493,"y":43.745},
{"g":"u4","l":4,"x":-79.436,"y":43.7443},{"g":"u4","l":4,"x":-79.4258,"y":43.7401},{"g":"u4","l":4,"x":-79.424,"y":43.7318},{"g":"u4","l":4,"x":-79.4342,"y":43.7264},{"g":"u4","l":4,"x":-79.446,"y":43.7293},{"g":"u4","l":4,"x":-79.4493,"y":43.737},{"g":"u4","l":4,"x":-79.4443,"y":43.742},
{"g":"u5","l":5,"x":-79.4359,"y":43.7385},{"g":"u5","l":5,"x":-79.4308,"y":43.735},{"g":"u5","l":5,"x":-79.4359,"y":43.7315},{"g":"u5","l":5,"x":-79.4416,"y":43.735},
{"g":"r3","l":3,"x":-79.308,"y":43.7326},{"g":"r3","l":3,"x":-79.301,"y":43.73},{"g":"r3","l":3,"x":-79.301,"y":43.7274},{"g":"r3","l":3,"x":-79.308,"y":43.7248},{"g":"r3","l":3,"x":-79.3128,"y":43.7274},{"g":"r3","l":3,"x":-79.3128,"y":43.7306},
{"g":"e3","l":3,"x":-79.3533,"y":43.6968},{"g":"e3","l":3,"x":-79.343,"y":43.6943},{"g":"e3","l":3,"x":-79.3405,"y":43.6898},{"g":"e3","l":3,"x":-79.348,"y":43.684},{"g":"e3","l":3,"x":-79.355,"y":43.683},{"g":"e3","l":3,"x":-79.3634,"y":43.6873},{"g":"e3","l":3,"x":-79.365,"y":43.6924},
{"g":"d","l":-1,"x":-79.4527,"y":43.7185},{"g":"d","l":-1,"x":-79.4473,"y":43.7166},{"g":"d","l":-1,"x":-79.449,"y":43.7147},{"g":"d","l":-1,"x":-79.4559,"y":43.7153},{"g":"d","l":-1,"x":-79.457,"y":43.717},
{"g":"c4","l":4,"x":-79.3954,"y":43.7166},{"g":"c4","l":4,"x":-79.3836,"y":43.7134},{"g":"c4","l":4,"x":-79.3786,"y":43.7076},{"g":"c4","l":4,"x":-79.3836,"y":43.7},{"g":"c4","l":4,"x":-79.3853,"y":43.6873},{"g":"c4","l":4,"x":-79.3802,"y":43.681},{"g":"c4","l":4,"x":-79.3668,"y":43.6733},{"g":"c4","l":4,"x":-79.3617,"y":43.6662},{"g":"c4","l":4,"x":-79.3718,"y":43.6608},{"g":"c4","l":4,"x":-79.392,"y":43.6599},{"g":"c4","l":4,"x":-79.4156,"y":43.6662},{"g":"c4","l":4,"x":-79.429,"y":43.6739},{"g":"c4","l":4,"x":-79.4426,"y":43.686},{"g":"c4","l":4,"x":-79.446,"y":43.6968},{"g":"c4","l":4,"x":-79.4342,"y":43.7038},{"g":"c4","l":4,"x":-79.4156,"y":43.7102},
{"g":"c5","l":5,"x":-79.3954,"y":43.7131},{"g":"c5","l":5,"x":-79.387,"y":43.7102},{"g":"c5","l":5,"x":-79.3887,"y":43.7013},{"g":"c5","l":5,"x":-79.3904,"y":43.6873},{"g":"c5","l":5,"x":-79.3853,"y":43.679},{"g":"c5","l":5,"x":-79.3718,"y":43.672},{"g":"c5","l":5,"x":-79.3668,"y":43.6662},{"g":"c5","l":5,"x":-79.3786,"y":43.6624},{"g":"c5","l":5,"x":-79.392,"y":43.6624},{"g":"c5","l":5,"x":-79.4123,"y":43.6675},{"g":"c5","l":5,"x":-79.4241,"y":43.6752},{"g":"c5","l":5,"x":-79.4375,"y":43.6866},{"g":"c5","l":5,"x":-79.4375,"y":43.6955},{"g":"c5","l":5,"x":-79.4224,"y":43.7032},{"g":"c5","l":5,"x":-79.4089,"y":43.7096},
{"g":"c6","l":6,"x":-79.4038,"y":43.7003},{"g":"c6","l":6,"x":-79.3971,"y":43.6955},{"g":"c6","l":6,"x":-79.3937,"y":43.6873},{"g":"c6","l":6,"x":-79.4005,"y":43.6771},{"g":"c6","l":6,"x":-79.4123,"y":43.6777},{"g":"c6","l":6,"x":-79.4258,"y":43.6834},{"g":"c6","l":6,"x":-79.4308,"y":43.6905},{"g":"c6","l":6,"x":-79.4224,"y":43.6962},
{"g":"c7","l":7,"x":-79.4123,"y":43.693},{"g":"c7","l":7,"x":-79.4022,"y":43.6892},{"g":"c7","l":7,"x":-79.4038,"y":43.6834},{"g":"c7","l":7,"x":-79.4106,"y":43.6812},{"g":"c7","l":7,"x":-79.4207,"y":43.6834},{"g":"c7","l":7,"x":-79.4258,"y":43.6866},{"g":"c7","l":7,"x":-79.4207,"y":43.6904},
{"g":"k6","l":6,"x":-79.3887,"y":43.6723},{"g":"k6","l":6,"x":-79.3786,"y":43.6688},{"g":"k6","l":6,"x":-79.3786,"y":43.6656},{"g":"k6","l":6,"x":-79.3853,"y":43.6646},{"g":"k6","l":6,"x":-79.3937,"y":43.6675},{"g":"k6","l":6,"x":-79.3937,"y":43.6707},
{"g":"a3","l":3,"x":-79.4898,"y":43.6497},{"g":"a3","l":3,"x":-79.4746,"y":43.6465},{"g":"a3","l":3,"x":-79.4712,"y":43.6415},{"g":"a3","l":3,"x":-79.4763,"y":43.6351},{"g":"a3","l":3,"x":-79.4881,"y":43.6313},{"g":"a3","l":3,"x":-79.4999,"y":43.6339},{"g":"a3","l":3,"x":-79.505,"y":43.6402},{"g":"a3","l":3,"x":-79.5016,"y":43.6465},
{"g":"a4","l":4,"x":-79.4898,"y":43.6443},{"g":"a4","l":4,"x":-79.4814,"y":43.6408},{"g":"a4","l":4,"x":-79.483,"y":43.637},{"g":"a4","l":4,"x":-79.4898,"y":43.6351},{"g":"a4","l":4,"x":-79.4965,"y":43.637},{"g":"a4","l":4,"x":-79.4982,"y":43.6408},
{"g":"b3","l":3,"x":-79.4392,"y":43.6497},{"g":"b3","l":3,"x":-79.424,"y":43.6465},{"g":"b3","l":3,"x":-79.419,"y":43.6402},{"g":"b3","l":3,"x":-79.4224,"y":43.6332},{"g":"b3","l":3,"x":-79.4342,"y":43.6291},{"g":"b3","l":3,"x":-79.446,"y":43.6313},{"g":"b3","l":3,"x":-79.4544,"y":43.637},{"g":"b3","l":3,"x":-79.4561,"y":43.6434},{"g":"b3","l":3,"x":-79.4493,"y":43.6478},
{"g":"b4","l":4,"x":-79.4359,"y":43.6453},{"g":"b4","l":4,"x":-79.4258,"y":43.6421},{"g":"b4","l":4,"x":-79.424,"y":43.637},{"g":"b4","l":4,"x":-79.4342,"y":43.6329},{"g":"b4","l":4,"x":-79.446,"y":43.6358},{"g":"b4","l":4,"x":-79.4477,"y":43.6421}],
"pb":[{"x":-79.29,"y":43.8138,"w":29},{"x":-79.265,"y":43.8087,"w":29},{"x":-79.216,"y":43.8074,"w":27},{"x":-79.149,"y":43.799,"w":25},{"x":-79.316,"y":43.796,"w":20},{"x":-79.239,"y":43.788,"w":29},{"x":-79.2027,"y":43.7806,"w":24},{"x":-79.2495,"y":43.7727,"w":25},{"x":-79.4455,"y":43.7868,"w":40},{"x":-79.4206,"y":43.786,"w":40},{"x":-79.415,"y":43.787,"w":40},{"x":-79.4063,"y":43.778,"w":40},{"x":-79.4505,"y":43.7733,"w":38},{"x":-79.4538,"y":43.7706,"w":38},{"x":-79.442,"y":43.7704,"w":38},{"x":-79.4372,"y":43.752,"w":38},{"x":-79.4372,"y":43.7532,"w":38},{"x":-79.435,"y":43.7447,"w":38},{"x":-79.423,"y":43.7397,"w":10},{"x":-79.488,"y":43.752,"w":17},{"x":-79.5625,"y":43.747,"w":17},{"x":-79.5665,"y":43.7415,"w":16},{"x":-79.614,"y":43.7314,"w":16},{"x":-79.598,"y":43.7314,"w":16},{"x":-79.3475,"y":43.7626,"w":4},{"x":-79.3226,"y":43.761,"w":4},{"x":-79.1964,"y":43.7676,"w":18},{"x":-79.1947,"y":43.7654,"w":18},{"x":-79.1957,"y":43.76,"w":18},{"x":-79.1957,"y":43.7593,"w":18},{"x":-79.25,"y":43.756,"w":26},{"x":-79.2346,"y":43.7578,"w":18},{"x":-79.2236,"y":43.7563,"w":18},{"x":-79.2173,"y":43.7543,"w":18},{"x":-79.2847,"y":43.747,"w":18},{"x":-79.2944,"y":43.7447,"w":18},{"x":-79.3027,"y":43.7439,"w":18},{"x":-79.2462,"y":43.7407,"w":28},{"x":-79.2252,"y":43.7409,"w":30},{"x":-79.2146,"y":43.7391,"w":24},{"x":-79.3006,"y":43.7345,"w":20},{"x":-79.306,"y":43.7328,"w":4},{"x":-79.34,"y":43.733,"w":4},{"x":-79.2774,"y":43.7293,"w":30},{"x":-79.2435,"y":43.7204,"w":30},{"x":-79.4894,"y":43.7251,"w":43},{"x":-79.483,"y":43.7206,"w":38},{"x":-79.5561,"y":43.7163,"w":16},{"x":-79.431,"y":43.7242,"w":10},{"x":-79.4438,"y":43.7183,"w":11},{"x":-79.4306,"y":43.7183,"w":11},{"x":-79.4429,"y":43.7157,"w":11},{"x":-79.4545,"y":43.7123,"w":11},{"x":-79.4545,"y":43.7115,"w":13},{"x":-79.504,"y":43.7095,"w":37},{"x":-79.4914,"y":43.7062,"w":38},{"x":-79.424,"y":43.7059,"w":11},{"x":-79.3973,"y":43.7062,"w":35},{"x":-79.3126,"y":43.707,"w":5},{"x":-79.3126,"y":43.7047,"w":5},{"x":-79.2967,"y":43.7068,"w":5},{"x":-79.3468,"y":43.705,"w":9},{"x":-79.5186,"y":43.7017,"w":38},{"x":-79.5145,"y":43.7005,"w":38},{"x":-79.4771,"y":43.7009,"w":38},{"x":-79.4455,"y":43.6972,"w":13},{"x":-79.4488,"y":43.6949,"w":30},{"x":-79.5043,"y":43.6917,"w":38},{"x":-79.4704,"y":43.6928,"w":38},{"x":-79.4704,"y":43.6906,"w":38},{"x":-79.4937,"y":43.6892,"w":38},{"x":-79.492,"y":43.686,"w":38},{"x":-79.5253,"y":43.6864,"w":12},{"x":-79.5215,"y":43.6855,"w":12},{"x":-79.5518,"y":43.6804,"w":13},{"x":-79.4216,"y":43.6868,"w":29},{"x":-79.419,"y":43.6847,"w":29},{"x":-79.4272,"y":43.6811,"w":30},{"x":-79.4173,"y":43.683,"w":30},{"x":-79.4711,"y":43.6798,"w":38},{"x":-79.4731,"y":43.6764,"w":38},{"x":-79.4289,"y":43.6753,"w":31},{"x":-79.4123,"y":43.6759,"w":31},{"x":-79.3983,"y":43.6755,"w":31},{"x":-79.4462,"y":43.6724,"w":9},{"x":-79.4581,"y":43.6697,"w":9},{"x":-79.4449,"y":43.6664,"w":10},{"x":-79.4605,"y":43.6653,"w":17},{"x":-79.5037,"y":43.6636,"w":20},{"x":-79.4047,"y":43.668,"w":33},{"x":-79.4216,"y":43.6626,"w":36},{"x":-79.4056,"y":43.6623,"w":36},{"x":-79.4439,"y":43.656,"w":10},{"x":-79.4256,"y":43.6556,"w":10},{"x":-79.4588,"y":43.6549,"w":17},{"x":-79.4595,"y":43.6562,"w":17},{"x":-79.4289,"y":43.6503,"w":10},{"x":-79.4887,"y":43.6484,"w":18},{"x":-79.4771,"y":43.6475,"w":18},{"x":-79.4123,"y":43.6498,"w":29},{"x":-79.4007,"y":43.6477,"w":29},{"x":-79.4123,"y":43.6452,"w":29},{"x":-79.4123,"y":43.643,"w":29},{"x":-79.4056,"y":43.6452,"w":29},{"x":-79.4389,"y":43.6409,"w":19},{"x":-79.4322,"y":43.6388,"w":19},{"x":-79.4372,"y":43.6371,"w":19},{"x":-79.4472,"y":43.6405,"w":19},{"x":-79.404,"y":43.6562,"w":36},{"x":-79.404,"y":43.6537,"w":36},{"x":-79.3857,"y":43.6566,"w":36},{"x":-79.3724,"y":43.6537,"w":36},{"x":-79.3658,"y":43.6503,"w":36},{"x":-79.3558,"y":43.6532,"w":36},{"x":-79.3724,"y":43.6685,"w":35},{"x":-79.3591,"y":43.663,"w":36},{"x":-79.3724,"y":43.6613,"w":36},{"x":-79.3658,"y":43.6588,"w":36},{"x":-79.3658,"y":43.6571,"w":36},{"x":-79.3475,"y":43.6613,"w":36},{"x":-79.3408,"y":43.6668,"w":36},{"x":-79.3292,"y":43.6698,"w":36},{"x":-79.3325,"y":43.6613,"w":33},{"x":-79.3226,"y":43.6639,"w":33},{"x":-79.3392,"y":43.6588,"w":33},{"x":-79.3159,"y":43.6664,"w":33},{"x":-79.3325,"y":43.6813,"w":30},{"x":-79.341,"y":43.6904,"w":27},{"x":-79.3468,"y":43.6877,"w":27},{"x":-79.3276,"y":43.6779,"w":30},{"x":-79.3226,"y":43.6832,"w":9},{"x":-79.3027,"y":43.6832,"w":9},{"x":-79.3093,"y":43.6804,"w":9},{"x":-79.3,"y":43.679,"w":9},{"x":-79.3192,"y":43.6779,"w":9},{"x":-79.296,"y":43.6894,"w":9},{"x":-79.3027,"y":43.6881,"w":9},{"x":-79.316,"y":43.6707,"w":9},{"x":-79.2854,"y":43.6915,"w":24},{"x":-79.3192,"y":43.6987,"w":8},{"x":-79.297,"y":43.7021,"w":6},{"x":-79.3724,"y":43.6486,"w":33},{"x":-79.3658,"y":43.649,"w":32},{"x":-79.5043,"y":43.6256,"w":12},{"x":-79.4947,"y":43.615,"w":12},{"x":-79.5452,"y":43.6086,"w":11},{"x":-79.508,"y":43.6014,"w":11},{"x":-79.512,"y":43.5998,"w":11},{"x":-79.5452,"y":43.5902,"w":11},{"x":-79.2887,"y":43.6721,"w":10}],
"cb":[{"g":"o","l":1,"x":-79.4355,"y":43.7838},{"g":"o","l":1,"x":-79.4223,"y":43.78},{"g":"o","l":1,"x":-79.4223,"y":43.7718},{"g":"o","l":1,"x":-79.4266,"y":43.7627},{"g":"o","l":1,"x":-79.4256,"y":43.7477},{"g":"o","l":1,"x":-79.4223,"y":43.7326},{"g":"o","l":1,"x":-79.4123,"y":43.7213},{"g":"o","l":1,"x":-79.4023,"y":43.71},{"g":"o","l":1,"x":-79.389,"y":43.703},{"g":"o","l":1,"x":-79.3774,"y":43.7011},{"g":"o","l":1,"x":-79.3674,"y":43.7026},{"g":"o","l":1,"x":-79.3558,"y":43.7072},{"g":"o","l":1,"x":-79.3392,"y":43.7119},{"g":"o","l":1,"x":-79.306,"y":43.7179},{"g":"o","l":1,"x":-79.2894,"y":43.7153},{"g":"o","l":1,"x":-79.2728,"y":43.707},{"g":"o","l":1,"x":-79.2628,"y":43.6936},{"g":"o","l":1,"x":-79.2595,"y":43.6834},{"g":"o","l":1,"x":-79.2611,"y":43.6707},{"g":"o","l":1,"x":-79.2728,"y":43.6596},{"g":"o","l":1,"x":-79.2927,"y":43.6486},{"g":"o","l":1,"x":-79.3259,"y":43.6366},{"g":"o","l":1,"x":-79.3724,"y":43.6286},{"g":"o","l":1,"x":-79.4056,"y":43.623},{"g":"o","l":1,"x":-79.4256,"y":43.6212},{"g":"o","l":1,"x":-79.4422,"y":43.6212},{"g":"o","l":1,"x":-79.4654,"y":43.6247},{"g":"o","l":1,"x":-79.4821,"y":43.6307},{"g":"o","l":1,"x":-79.4953,"y":43.6417},{"g":"o","l":1,"x":-79.502,"y":43.6579},{"g":"o","l":1,"x":-79.5086,"y":43.6681},{"g":"o","l":1,"x":-79.5219,"y":43.6766},{"g":"o","l":1,"x":-79.5368,"y":43.6843},{"g":"o","l":1,"x":-79.5395,"y":43.6919},{"g":"o","l":1,"x":-79.5368,"y":43.7047},{"g":"o","l":1,"x":-79.5319,"y":43.7115},{"g":"o","l":1,"x":-79.5053,"y":43.7183},{"g":"o","l":1,"x":-79.4654,"y":43.7281},{"g":"o","l":1,"x":-79.4505,"y":43.7341},{"g":"o","l":1,"x":-79.4455,"y":43.7401},{"g":"o","l":1,"x":-79.4488,"y":43.7477},{"g":"o","l":1,"x":-79.4571,"y":43.7605},{"g":"o","l":1,"x":-79.4621,"y":43.7703},{"g":"o","l":1,"x":-79.4605,"y":43.7755},{"g":"o","l":1,"x":-79.4522,"y":43.7816},
{"g":"p","l":1,"x":-79.2063,"y":43.7742},{"g":"p","l":1,"x":-79.1914,"y":43.7725},{"g":"p","l":1,"x":-79.1804,"y":43.7657},{"g":"p","l":1,"x":-79.1804,"y":43.7582},{"g":"p","l":1,"x":-79.1864,"y":43.7514},{"g":"p","l":1,"x":-79.203,"y":43.7462},{"g":"p","l":1,"x":-79.2229,"y":43.7424},{"g":"p","l":1,"x":-79.2395,"y":43.742},{"g":"p","l":1,"x":-79.2545,"y":43.7435},{"g":"p","l":1,"x":-79.2661,"y":43.7386},{"g":"p","l":1,"x":-79.2761,"y":43.7334},{"g":"p","l":1,"x":-79.2927,"y":43.729},{"g":"p","l":1,"x":-79.3043,"y":43.7315},{"g":"p","l":1,"x":-79.3133,"y":43.7401},{"g":"p","l":1,"x":-79.3076,"y":43.7477},{"g":"p","l":1,"x":-79.2927,"y":43.7505},{"g":"p","l":1,"x":-79.2728,"y":43.7496},{"g":"p","l":1,"x":-79.2601,"y":43.7484},{"g":"p","l":1,"x":-79.2512,"y":43.7537},{"g":"p","l":1,"x":-79.2412,"y":43.7635},{"g":"p","l":1,"x":-79.2262,"y":43.771},
{"g":"q","l":1,"x":-79.1498,"y":43.8055},{"g":"q","l":1,"x":-79.1598,"y":43.8034},{"g":"q","l":1,"x":-79.1654,"y":43.7981},{"g":"q","l":1,"x":-79.1598,"y":43.7932},{"g":"q","l":1,"x":-79.1498,"y":43.7913},{"g":"q","l":1,"x":-79.1495,"y":43.7985},
{"g":"m2","l":2,"x":-79.4837,"y":43.7089},{"g":"m2","l":2,"x":-79.4555,"y":43.7127},{"g":"m2","l":2,"x":-79.4422,"y":43.7108},{"g":"m2","l":2,"x":-79.4306,"y":43.7055},{"g":"m2","l":2,"x":-79.4256,"y":43.7047},{"g":"m2","l":2,"x":-79.4056,"y":43.697},{"g":"m2","l":2,"x":-79.3907,"y":43.6902},{"g":"m2","l":2,"x":-79.3757,"y":43.6885},{"g":"m2","l":2,"x":-79.3625,"y":43.6906},{"g":"m2","l":2,"x":-79.3458,"y":43.6979},{"g":"m2","l":2,"x":-79.3192,"y":43.7047},{"g":"m2","l":2,"x":-79.296,"y":43.703},{"g":"m2","l":2,"x":-79.2794,"y":43.697},{"g":"m2","l":2,"x":-79.2728,"y":43.6868},{"g":"m2","l":2,"x":-79.2744,"y":43.6749},{"g":"m2","l":2,"x":-79.2861,"y":43.6639},{"g":"m2","l":2,"x":-79.3093,"y":43.6528},{"g":"m2","l":2,"x":-79.3392,"y":43.6426},{"g":"m2","l":2,"x":-79.3724,"y":43.6358},{"g":"m2","l":2,"x":-79.4056,"y":43.6294},{"g":"m2","l":2,"x":-79.4322,"y":43.6269},{"g":"m2","l":2,"x":-79.4488,"y":43.6286},{"g":"m2","l":2,"x":-79.4721,"y":43.6375},{"g":"m2","l":2,"x":-79.4821,"y":43.6477},{"g":"m2","l":2,"x":-79.4854,"y":43.6664},{"g":"m2","l":2,"x":-79.492,"y":43.6749},{"g":"m2","l":2,"x":-79.5086,"y":43.6851},{"g":"m2","l":2,"x":-79.5119,"y":43.6953},{"g":"m2","l":2,"x":-79.502,"y":43.7038},
{"g":"m3","l":3,"x":-79.4654,"y":43.6962},{"g":"m3","l":3,"x":-79.4422,"y":43.6949},{"g":"m3","l":3,"x":-79.4189,"y":43.6915},{"g":"m3","l":3,"x":-79.3957,"y":43.6843},{"g":"m3","l":3,"x":-79.3774,"y":43.6821},{"g":"m3","l":3,"x":-79.3591,"y":43.6843},{"g":"m3","l":3,"x":-79.3392,"y":43.6928},{"g":"m3","l":3,"x":-79.3126,"y":43.6974},{"g":"m3","l":3,"x":-79.2927,"y":43.6945},{"g":"m3","l":3,"x":-79.2827,"y":43.6851},{"g":"m3","l":3,"x":-79.2827,"y":43.6749},{"g":"m3","l":3,"x":-79.296,"y":43.6639},{"g":"m3","l":3,"x":-79.3226,"y":43.6528},{"g":"m3","l":3,"x":-79.3558,"y":43.6418},{"g":"m3","l":3,"x":-79.3924,"y":43.6354},{"g":"m3","l":3,"x":-79.4256,"y":43.6315},{"g":"m3","l":3,"x":-79.4422,"y":43.6332},{"g":"m3","l":3,"x":-79.4654,"y":43.6426},{"g":"m3","l":3,"x":-79.4704,"y":43.6579},{"g":"m3","l":3,"x":-79.4721,"y":43.6749},{"g":"m3","l":3,"x":-79.4788,"y":43.6851},{"g":"m3","l":3,"x":-79.4788,"y":43.6919},
{"g":"m4","l":4,"x":-79.4322,"y":43.6847},{"g":"m4","l":4,"x":-79.4156,"y":43.6817},{"g":"m4","l":4,"x":-79.399,"y":43.6779},{"g":"m4","l":4,"x":-79.3757,"y":43.6776},{"g":"m4","l":4,"x":-79.3525,"y":43.6817},{"g":"m4","l":4,"x":-79.3326,"y":43.6885},{"g":"m4","l":4,"x":-79.3159,"y":43.6913},{"g":"m4","l":4,"x":-79.296,"y":43.6885},{"g":"m4","l":4,"x":-79.291,"y":43.6809},{"g":"m4","l":4,"x":-79.296,"y":43.6715},{"g":"m4","l":4,"x":-79.3126,"y":43.663},{"g":"m4","l":4,"x":-79.3458,"y":43.6511},{"g":"m4","l":4,"x":-79.3791,"y":43.6426},{"g":"m4","l":4,"x":-79.419,"y":43.6362},{"g":"m4","l":4,"x":-79.4322,"y":43.6366},{"g":"m4","l":4,"x":-79.4488,"y":43.6426},{"g":"m4","l":4,"x":-79.4538,"y":43.6537},{"g":"m4","l":4,"x":-79.4505,"y":43.6707},{"g":"m4","l":4,"x":-79.4455,"y":43.6817},
{"g":"m5","l":5,"x":-79.3192,"y":43.6855},{"g":"m5","l":5,"x":-79.3026,"y":43.6817},{"g":"m5","l":5,"x":-79.2999,"y":43.6749},{"g":"m5","l":5,"x":-79.3093,"y":43.6664},{"g":"m5","l":5,"x":-79.3292,"y":43.6562},{"g":"m5","l":5,"x":-79.3624,"y":43.6469},{"g":"m5","l":5,"x":-79.4056,"y":43.6418},{"g":"m5","l":5,"x":-79.4256,"y":43.6409},{"g":"m5","l":5,"x":-79.4355,"y":43.6452},{"g":"m5","l":5,"x":-79.4389,"y":43.6511},{"g":"m5","l":5,"x":-79.4322,"y":43.6613},{"g":"m5","l":5,"x":-79.4256,"y":43.669},{"g":"m5","l":5,"x":-79.4123,"y":43.6719},{"g":"m5","l":5,"x":-79.3791,"y":43.6741},{"g":"m5","l":5,"x":-79.3525,"y":43.6775},{"g":"m5","l":5,"x":-79.3359,"y":43.6826},
{"g":"m6","l":6,"x":-79.3242,"y":43.68},{"g":"m6","l":6,"x":-79.3109,"y":43.6775},{"g":"m6","l":6,"x":-79.3093,"y":43.6707},{"g":"m6","l":6,"x":-79.3226,"y":43.6613},{"g":"m6","l":6,"x":-79.3525,"y":43.6503},{"g":"m6","l":6,"x":-79.3791,"y":43.6464},{"g":"m6","l":6,"x":-79.4056,"y":43.6473},{"g":"m6","l":6,"x":-79.419,"y":43.6511},{"g":"m6","l":6,"x":-79.4196,"y":43.6579},{"g":"m6","l":6,"x":-79.4123,"y":43.6639},{"g":"m6","l":6,"x":-79.3957,"y":43.669},{"g":"m6","l":6,"x":-79.3724,"y":43.6724},{"g":"m6","l":6,"x":-79.3458,"y":43.6758},
{"g":"m7","l":7,"x":-79.3326,"y":43.6728},{"g":"m7","l":7,"x":-79.3242,"y":43.6724},{"g":"m7","l":7,"x":-79.3242,"y":43.6656},{"g":"m7","l":7,"x":-79.3392,"y":43.6579},{"g":"m7","l":7,"x":-79.3591,"y":43.6511},{"g":"m7","l":7,"x":-79.3824,"y":43.6498},{"g":"m7","l":7,"x":-79.3973,"y":43.6537},{"g":"m7","l":7,"x":-79.399,"y":43.6588},{"g":"m7","l":7,"x":-79.3824,"y":43.6673},{"g":"m7","l":7,"x":-79.3558,"y":43.6707},
{"g":"m8","l":8,"x":-79.3525,"y":43.6657},{"g":"m8","l":8,"x":-79.3442,"y":43.6639},{"g":"m8","l":8,"x":-79.3458,"y":43.6596},{"g":"m8","l":8,"x":-79.3624,"y":43.6545},{"g":"m8","l":8,"x":-79.3724,"y":43.6537},{"g":"m8","l":8,"x":-79.3824,"y":43.6571},{"g":"m8","l":8,"x":-79.3757,"y":43.6622},{"g":"m8","l":8,"x":-79.3658,"y":43.6643}],
"pc":[{"x":-79.3616,"y":43.8102,"w":6},{"x":-79.2185,"y":43.8077,"w":27},{"x":-79.2185,"y":43.8083,"w":27},{"x":-79.3058,"y":43.7983,"w":20},{"x":-79.3517,"y":43.7937,"w":7},{"x":-79.3593,"y":43.7921,"w":7},{"x":-79.3555,"y":43.793,"w":7},{"x":-79.4463,"y":43.7916,"w":43},{"x":-79.4088,"y":43.7876,"w":41},{"x":-79.1963,"y":43.7876,"w":24},{"x":-79.195,"y":43.7861,"w":24},{"x":-79.4151,"y":43.7757,"w":41},{"x":-79.4151,"y":43.768,"w":41},{"x":-79.4645,"y":43.7599,"w":43},{"x":-79.439,"y":43.7581,"w":43},{"x":-79.3201,"y":43.7593,"w":4},{"x":-79.518,"y":43.7687,"w":18},{"x":-79.521,"y":43.765,"w":13},{"x":-79.5077,"y":43.7599,"w":13},{"x":-79.5167,"y":43.7541,"w":13},{"x":-79.5193,"y":43.7524,"w":13},{"x":-79.4894,"y":43.7535,"w":13},{"x":-79.5436,"y":43.7518,"w":14},{"x":-79.5675,"y":43.7434,"w":13},{"x":-79.5807,"y":43.7379,"w":13},{"x":-79.5011,"y":43.7424,"w":13},{"x":-79.5104,"y":43.7398,"w":13},{"x":-79.5376,"y":43.733,"w":13},{"x":-79.5459,"y":43.7288,"w":13},{"x":-79.6116,"y":43.7311,"w":17},{"x":-79.603,"y":43.7198,"w":18},{"x":-79.423,"y":43.7392,"w":10},{"x":-79.3487,"y":43.7336,"w":5},{"x":-79.3317,"y":43.7174,"w":5},{"x":-79.3035,"y":43.7213,"w":7},{"x":-79.3002,"y":43.7172,"w":6},{"x":-79.3042,"y":43.7153,"w":6},{"x":-79.232,"y":43.7808,"w":22},{"x":-79.231,"y":43.7774,"w":18},{"x":-79.3002,"y":43.7812,"w":18},{"x":-79.2919,"y":43.7817,"w":18},{"x":-79.3241,"y":43.7785,"w":18},{"x":-79.3201,"y":43.7767,"w":18},{"x":-79.2853,"y":43.7693,"w":20},{"x":-79.2853,"y":43.7672,"w":20},{"x":-79.1939,"y":43.7672,"w":19},{"x":-79.1856,"y":43.7672,"w":19},{"x":-79.2039,"y":43.7631,"w":19},{"x":-79.2106,"y":43.7623,"w":19},{"x":-79.1923,"y":43.7625,"w":19},{"x":-79.2222,"y":43.7599,"w":19},{"x":-79.2305,"y":43.7593,"w":19},{"x":-79.2511,"y":43.755,"w":20},{"x":-79.2421,"y":43.7409,"w":24},{"x":-79.2278,"y":43.7405,"w":24},{"x":-79.2195,"y":43.7424,"w":24},{"x":-79.2547,"y":43.7364,"w":22},{"x":-79.2786,"y":43.7315,"w":22},{"x":-79.2577,"y":43.733,"w":25},{"x":-79.2643,"y":43.727,"w":25},{"x":-79.2521,"y":43.727,"w":25},{"x":-79.2394,"y":43.7202,"w":27},{"x":-79.2687,"y":43.7142,"w":27},{"x":-79.2803,"y":43.7059,"w":25},{"x":-79.4446,"y":43.7352,"w":38},{"x":-79.4425,"y":43.7364,"w":38},{"x":-79.4934,"y":43.7241,"w":38},{"x":-79.5077,"y":43.7221,"w":38},{"x":-79.5054,"y":43.716,"w":38},{"x":-79.4403,"y":43.7296,"w":13},{"x":-79.4021,"y":43.7272,"w":11},{"x":-79.4313,"y":43.7217,"w":13},{"x":-79.4463,"y":43.7221,"w":13},{"x":-79.443,"y":43.7183,"w":13},{"x":-79.4297,"y":43.7183,"w":13},{"x":-79.4463,"y":43.72,"w":13},{"x":-79.3998,"y":43.7181,"w":12},{"x":-79.3998,"y":43.7138,"w":12},{"x":-79.3965,"y":43.7102,"w":11},{"x":-79.3898,"y":43.7085,"w":11},{"x":-79.3915,"y":43.7104,"w":30},{"x":-79.3965,"y":43.7063,"w":27},{"x":-79.4894,"y":43.7064,"w":38},{"x":-79.3483,"y":43.7051,"w":8},{"x":-79.5485,"y":43.702,"w":13},{"x":-79.526,"y":43.701,"w":13},{"x":-79.516,"y":43.6997,"w":38},{"x":-79.5028,"y":43.6987,"w":38},{"x":-79.516,"y":43.6938,"w":12},{"x":-79.4403,"y":43.7024,"w":12},{"x":-79.4247,"y":43.7017,"w":12},{"x":-79.4479,"y":43.696,"w":28},{"x":-79.3865,"y":43.6987,"w":29},{"x":-79.3948,"y":43.6962,"w":29},{"x":-79.4685,"y":43.6921,"w":39},{"x":-79.4921,"y":43.6893,"w":37},{"x":-79.3424,"y":43.6901,"w":28},{"x":-79.2793,"y":43.7061,"w":25},{"x":-79.2809,"y":43.7032,"w":25},{"x":-79.2554,"y":43.6995,"w":23},{"x":-79.3118,"y":43.699,"w":8},{"x":-79.3025,"y":43.6957,"w":9},{"x":-79.2869,"y":43.6972,"w":24},{"x":-79.2786,"y":43.694,"w":24},{"x":-79.2902,"y":43.6863,"w":9},{"x":-79.2969,"y":43.685,"w":9},{"x":-79.3118,"y":43.6832,"w":9},{"x":-79.2926,"y":43.6806,"w":9},{"x":-79.3019,"y":43.6782,"w":9},{"x":-79.4214,"y":43.6853,"w":28},{"x":-79.4181,"y":43.6809,"w":29},{"x":-79.4728,"y":43.6824,"w":39},{"x":-79.4811,"y":43.6794,"w":39},{"x":-79.4961,"y":43.6786,"w":39},{"x":-79.4908,"y":43.6727,"w":39},{"x":-79.3334,"y":43.6814,"w":28},{"x":-79.335,"y":43.6794,"w":28},{"x":-79.3208,"y":43.6796,"w":10},{"x":-79.4546,"y":43.671,"w":6},{"x":-79.4579,"y":43.6695,"w":6},{"x":-79.4247,"y":43.6732,"w":26},{"x":-79.3998,"y":43.6749,"w":33},{"x":-79.3932,"y":43.6744,"w":33},{"x":-79.36,"y":43.6759,"w":30},{"x":-79.345,"y":43.6774,"w":30},{"x":-79.3384,"y":43.6744,"w":30},{"x":-79.3168,"y":43.6744,"w":7},{"x":-79.3069,"y":43.6744,"w":7},{"x":-79.3135,"y":43.6724,"w":7},{"x":-79.3052,"y":43.6724,"w":7},{"x":-79.2929,"y":43.6687,"w":7},{"x":-79.4987,"y":43.6655,"w":19},{"x":-79.3865,"y":43.672,"w":31},{"x":-79.3749,"y":43.669,"w":31},{"x":-79.4015,"y":43.6685,"w":31},{"x":-79.34,"y":43.6715,"w":31},{"x":-79.3417,"y":43.6675,"w":31},{"x":-79.3268,"y":43.6665,"w":31},{"x":-79.3168,"y":43.666,"w":31},{"x":-79.4264,"y":43.666,"w":31},{"x":-79.39,"y":43.6655,"w":31},{"x":-79.3699,"y":43.6635,"w":36},{"x":-79.3733,"y":43.6606,"w":36},{"x":-79.3666,"y":43.6576,"w":36},{"x":-79.3799,"y":43.6586,"w":36},{"x":-79.3733,"y":43.6556,"w":36},{"x":-79.3367,"y":43.663,"w":36},{"x":-79.4496,"y":43.6584,"w":7},{"x":-79.4445,"y":43.6584,"w":7},{"x":-79.4672,"y":43.6566,"w":19},{"x":-79.4147,"y":43.6556,"w":33},{"x":-79.3865,"y":43.6546,"w":33},{"x":-79.3766,"y":43.6521,"w":33},{"x":-79.3666,"y":43.6526,"w":33},{"x":-79.3998,"y":43.6516,"w":33},{"x":-79.3932,"y":43.6506,"w":33},{"x":-79.432,"y":43.6492,"w":12},{"x":-79.3699,"y":43.6492,"w":30},{"x":-79.3749,"y":43.6467,"w":30},{"x":-79.4031,"y":43.6447,"w":30},{"x":-79.3998,"y":43.6397,"w":25},{"x":-79.4347,"y":43.6417,"w":18},{"x":-79.4297,"y":43.6397,"w":18},{"x":-79.438,"y":43.6388,"w":18},{"x":-79.4364,"y":43.6353,"w":18},{"x":-79.3998,"y":43.6353,"w":25},{"x":-79.5701,"y":43.6759,"w":18},{"x":-79.5648,"y":43.6528,"w":14},{"x":-79.5319,"y":43.6465,"w":11},{"x":-79.5276,"y":43.6449,"w":11},{"x":-79.4994,"y":43.617,"w":11},{"x":-79.4961,"y":43.6158,"w":11},{"x":-79.512,"y":43.6004,"w":11},{"x":-79.5011,"y":43.6011,"w":11}],
"cc":[{"g":"o","l":1,"x":-79.5127,"y":43.7676},{"g":"o","l":1,"x":-79.4994,"y":43.765},{"g":"o","l":1,"x":-79.4861,"y":43.759},{"g":"o","l":1,"x":-79.4778,"y":43.7514},{"g":"o","l":1,"x":-79.4679,"y":43.7473},{"g":"o","l":1,"x":-79.443,"y":43.7469},{"g":"o","l":1,"x":-79.4197,"y":43.7439},{"g":"o","l":1,"x":-79.3998,"y":43.7379},{"g":"o","l":1,"x":-79.3732,"y":43.7243},{"g":"o","l":1,"x":-79.3599,"y":43.7115},{"g":"o","l":1,"x":-79.3566,"y":43.7091},{"g":"o","l":1,"x":-79.3483,"y":43.7027},{"g":"o","l":1,"x":-79.34,"y":43.7032},{"g":"o","l":1,"x":-79.3267,"y":43.7091},{"g":"o","l":1,"x":-79.3168,"y":43.7175},{"g":"o","l":1,"x":-79.3002,"y":43.7349},{"g":"o","l":1,"x":-79.2836,"y":43.7477},{"g":"o","l":1,"x":-79.272,"y":43.7567},{"g":"o","l":1,"x":-79.2687,"y":43.7672},{"g":"o","l":1,"x":-79.2438,"y":43.7763},{"g":"o","l":1,"x":-79.2205,"y":43.7838},{"g":"o","l":1,"x":-79.2022,"y":43.7853},{"g":"o","l":1,"x":-79.1839,"y":43.7831},{"g":"o","l":1,"x":-79.1673,"y":43.7748},{"g":"o","l":1,"x":-79.1634,"y":43.7642},{"g":"o","l":1,"x":-79.1673,"y":43.7567},{"g":"o","l":1,"x":-79.1839,"y":43.7477},{"g":"o","l":1,"x":-79.2006,"y":43.7394},{"g":"o","l":1,"x":-79.2139,"y":43.7266},{"g":"o","l":1,"x":-79.2305,"y":43.7138},{"g":"o","l":1,"x":-79.2355,"y":43.7091},{"g":"o","l":1,"x":-79.2505,"y":43.6962},{"g":"o","l":1,"x":-79.267,"y":43.6794},{"g":"o","l":1,"x":-79.2869,"y":43.6606},{"g":"o","l":1,"x":-79.3135,"y":43.6477},{"g":"o","l":1,"x":-79.3367,"y":43.6368},{"g":"o","l":1,"x":-79.36,"y":43.6308},{"g":"o","l":1,"x":-79.3998,"y":43.6264},{"g":"o","l":1,"x":-79.4264,"y":43.6264},{"g":"o","l":1,"x":-79.443,"y":43.6288},{"g":"o","l":1,"x":-79.4579,"y":43.6358},{"g":"o","l":1,"x":-79.4662,"y":43.6447},{"g":"o","l":1,"x":-79.4795,"y":43.6526},{"g":"o","l":1,"x":-79.5028,"y":43.6606},{"g":"o","l":1,"x":-79.516,"y":43.6695},{"g":"o","l":1,"x":-79.5326,"y":43.6824},{"g":"o","l":1,"x":-79.5492,"y":43.6913},{"g":"o","l":1,"x":-79.5542,"y":43.7002},{"g":"o","l":1,"x":-79.5525,"y":43.7078},{"g":"o","l":1,"x":-79.5426,"y":43.7183},{"g":"o","l":1,"x":-79.5432,"y":43.7266},{"g":"o","l":1,"x":-79.5509,"y":43.7288},{"g":"o","l":1,"x":-79.5758,"y":43.7311},{"g":"o","l":1,"x":-79.5874,"y":43.7349},{"g":"o","l":1,"x":-79.5874,"y":43.7394},{"g":"o","l":1,"x":-79.5675,"y":43.7454},{"g":"o","l":1,"x":-79.5526,"y":43.7499},{"g":"o","l":1,"x":-79.5392,"y":43.7605},{"g":"o","l":1,"x":-79.5276,"y":43.7657},
{"g":"p","l":1,"x":-79.3168,"y":43.7891},{"g":"p","l":1,"x":-79.3002,"y":43.7861},{"g":"p","l":1,"x":-79.2836,"y":43.78},{"g":"p","l":1,"x":-79.2737,"y":43.7718},{"g":"p","l":1,"x":-79.272,"y":43.7676},{"g":"p","l":1,"x":-79.2836,"y":43.765},{"g":"p","l":1,"x":-79.3002,"y":43.7646},{"g":"p","l":1,"x":-79.3168,"y":43.768},{"g":"p","l":1,"x":-79.3301,"y":43.7755},{"g":"p","l":1,"x":-79.3351,"y":43.7831},{"g":"p","l":1,"x":-79.3301,"y":43.7872},
{"g":"a2","l":2,"x":-79.4413,"y":43.738},{"g":"a2","l":2,"x":-79.423,"y":43.7349},{"g":"a2","l":2,"x":-79.3998,"y":43.7258},{"g":"a2","l":2,"x":-79.3815,"y":43.7153},{"g":"a2","l":2,"x":-79.3815,"y":43.7052},{"g":"a2","l":2,"x":-79.3865,"y":43.6992},{"g":"a2","l":2,"x":-79.3998,"y":43.6947},{"g":"a2","l":2,"x":-79.4164,"y":43.6938},{"g":"a2","l":2,"x":-79.4364,"y":43.6952},{"g":"a2","l":2,"x":-79.4629,"y":43.6982},{"g":"a2","l":2,"x":-79.4728,"y":43.6947},{"g":"a2","l":2,"x":-79.4861,"y":43.6848},{"g":"a2","l":2,"x":-79.5028,"y":43.6848},{"g":"a2","l":2,"x":-79.5227,"y":43.6913},{"g":"a2","l":2,"x":-79.5309,"y":43.6992},{"g":"a2","l":2,"x":-79.526,"y":43.7071},{"g":"a2","l":2,"x":-79.516,"y":43.7115},{"g":"a2","l":2,"x":-79.4928,"y":43.7187},{"g":"a2","l":2,"x":-79.4762,"y":43.7296},{"g":"a2","l":2,"x":-79.4596,"y":43.7364},
{"g":"b2","l":2,"x":-79.2039,"y":43.7748},{"g":"b2","l":2,"x":-79.1873,"y":43.7718},{"g":"b2","l":2,"x":-79.1813,"y":43.7635},{"g":"b2","l":2,"x":-79.1873,"y":43.7567},{"g":"b2","l":2,"x":-79.2039,"y":43.7507},{"g":"b2","l":2,"x":-79.2188,"y":43.7469},{"g":"b2","l":2,"x":-79.2255,"y":43.7326},{"g":"b2","l":2,"x":-79.2438,"y":43.716},{"g":"b2","l":2,"x":-79.2604,"y":43.7055},{"g":"b2","l":2,"x":-79.2703,"y":43.6982},{"g":"b2","l":2,"x":-79.2869,"y":43.6834},{"g":"b2","l":2,"x":-79.3069,"y":43.6665},{"g":"b2","l":2,"x":-79.3268,"y":43.6526},{"g":"b2","l":2,"x":-79.35,"y":43.6407},{"g":"b2","l":2,"x":-79.3832,"y":43.6338},{"g":"b2","l":2,"x":-79.4098,"y":43.6328},{"g":"b2","l":2,"x":-79.433,"y":43.6378},{"g":"b2","l":2,"x":-79.4446,"y":43.6497},{"g":"b2","l":2,"x":-79.4463,"y":43.6645},{"g":"b2","l":2,"x":-79.433,"y":43.6754},{"g":"b2","l":2,"x":-79.4098,"y":43.6853},{"g":"b2","l":2,"x":-79.3666,"y":43.6883},{"g":"b2","l":2,"x":-79.34,"y":43.6898},{"g":"b2","l":2,"x":-79.3201,"y":43.6952},{"g":"b2","l":2,"x":-79.3069,"y":43.7032},{"g":"b2","l":2,"x":-79.3002,"y":43.7078},{"g":"b2","l":2,"x":-79.2886,"y":43.7251},{"g":"b2","l":2,"x":-79.2737,"y":43.7409},{"g":"b2","l":2,"x":-79.2604,"y":43.7454},{"g":"b2","l":2,"x":-79.2371,"y":43.7514},{"g":"b2","l":2,"x":-79.2338,"y":43.7627},{"g":"b2","l":2,"x":-79.2238,"y":43.7703},
{"g":"a3","l":3,"x":-79.4413,"y":43.7322},{"g":"a3","l":3,"x":-79.423,"y":43.7288},{"g":"a3","l":3,"x":-79.4048,"y":43.7175},{"g":"a3","l":3,"x":-79.3998,"y":43.7093},{"g":"a3","l":3,"x":-79.4064,"y":43.7042},{"g":"a3","l":3,"x":-79.4297,"y":43.703},{"g":"a3","l":3,"x":-79.4463,"y":43.7052},{"g":"a3","l":3,"x":-79.4629,"y":43.7078},{"g":"a3","l":3,"x":-79.4695,"y":43.7175},{"g":"a3","l":3,"x":-79.4629,"y":43.7258},
{"g":"a4","l":4,"x":-79.4396,"y":43.7262},{"g":"a4","l":4,"x":-79.423,"y":43.7221},{"g":"a4","l":4,"x":-79.4181,"y":43.716},{"g":"a4","l":4,"x":-79.423,"y":43.7115},{"g":"a4","l":4,"x":-79.4363,"y":43.71},{"g":"a4","l":4,"x":-79.4496,"y":43.7138},{"g":"a4","l":4,"x":-79.4562,"y":43.7191},{"g":"a4","l":4,"x":-79.4529,"y":43.7236},
{"g":"r3","l":3,"x":-79.257,"y":43.7352},{"g":"r3","l":3,"x":-79.2454,"y":43.7311},{"g":"r3","l":3,"x":-79.2504,"y":43.7258},{"g":"r3","l":3,"x":-79.2587,"y":43.7237},{"g":"r3","l":3,"x":-79.267,"y":43.7273},{"g":"r3","l":3,"x":-79.2653,"y":43.7326},
{"g":"n3","l":3,"x":-79.3334,"y":43.6838},{"g":"n3","l":3,"x":-79.3068,"y":43.6824},{"g":"n3","l":3,"x":-79.3068,"y":43.6744},{"g":"n3","l":3,"x":-79.3135,"y":43.6625},{"g":"n3","l":3,"x":-79.3367,"y":43.6497},{"g":"n3","l":3,"x":-79.3633,"y":43.6397},{"g":"n3","l":3,"x":-79.3932,"y":43.6368},{"g":"n3","l":3,"x":-79.4197,"y":43.6417},{"g":"n3","l":3,"x":-79.4297,"y":43.6536},{"g":"n3","l":3,"x":-79.4264,"y":43.6665},{"g":"n3","l":3,"x":-79.4064,"y":43.6784},{"g":"n3","l":3,"x":-79.3699,"y":43.6829},
{"g":"n4","l":4,"x":-79.35,"y":43.6799},{"g":"n4","l":4,"x":-79.3284,"y":43.6769},{"g":"n4","l":4,"x":-79.3201,"y":43.6695},{"g":"n4","l":4,"x":-79.33,"y":43.6576},{"g":"n4","l":4,"x":-79.3566,"y":43.6447},{"g":"n4","l":4,"x":-79.3865,"y":43.6402},{"g":"n4","l":4,"x":-79.4098,"y":43.6437},{"g":"n4","l":4,"x":-79.4197,"y":43.6536},{"g":"n4","l":4,"x":-79.4164,"y":43.6655},{"g":"n4","l":4,"x":-79.3965,"y":43.6754},{"g":"n4","l":4,"x":-79.3732,"y":43.6794},
{"g":"n5","l":5,"x":-79.3633,"y":43.6769},{"g":"n5","l":5,"x":-79.34,"y":43.6749},{"g":"n5","l":5,"x":-79.3251,"y":43.6685},{"g":"n5","l":5,"x":-79.3334,"y":43.6576},{"g":"n5","l":5,"x":-79.3633,"y":43.6457},{"g":"n5","l":5,"x":-79.3898,"y":43.6437},{"g":"n5","l":5,"x":-79.4064,"y":43.6487},{"g":"n5","l":5,"x":-79.4131,"y":43.6576},{"g":"n5","l":5,"x":-79.4064,"y":43.6665},{"g":"n5","l":5,"x":-79.3865,"y":43.6734},
{"g":"n6","l":6,"x":-79.3633,"y":43.6744},{"g":"n6","l":6,"x":-79.34,"y":43.6709},{"g":"n6","l":6,"x":-79.3334,"y":43.6655},{"g":"n6","l":6,"x":-79.34,"y":43.6576},{"g":"n6","l":6,"x":-79.3633,"y":43.6487},{"g":"n6","l":6,"x":-79.3865,"y":43.6472},{"g":"n6","l":6,"x":-79.4015,"y":43.6506},{"g":"n6","l":6,"x":-79.4064,"y":43.6586},{"g":"n6","l":6,"x":-79.3998,"y":43.6665},{"g":"n6","l":6,"x":-79.3832,"y":43.672},
{"g":"n7","l":7,"x":-79.3666,"y":43.6717},{"g":"n7","l":7,"x":-79.3483,"y":43.6685},{"g":"n7","l":7,"x":-79.34,"y":43.6625},{"g":"n7","l":7,"x":-79.35,"y":43.6546},{"g":"n7","l":7,"x":-79.3699,"y":43.6506},{"g":"n7","l":7,"x":-79.3865,"y":43.6516},{"g":"n7","l":7,"x":-79.3981,"y":43.6576},{"g":"n7","l":7,"x":-79.3932,"y":43.6655},{"g":"n7","l":7,"x":-79.3799,"y":43.67},
{"g":"n8","l":8,"x":-79.3666,"y":43.669},{"g":"n8","l":8,"x":-79.3517,"y":43.6655},{"g":"n8","l":8,"x":-79.3467,"y":43.6606},{"g":"n8","l":8,"x":-79.3566,"y":43.6546},{"g":"n8","l":8,"x":-79.3732,"y":43.6526},{"g":"n8","l":8,"x":-79.3865,"y":43.6541},{"g":"n8","l":8,"x":-79.3932,"y":43.6596},{"g":"n8","l":8,"x":-79.3865,"y":43.6655},{"g":"n8","l":8,"x":-79.3766,"y":43.6685},
{"g":"n9","l":9,"x":-79.3683,"y":43.6655},{"g":"n9","l":9,"x":-79.3567,"y":43.6635},{"g":"n9","l":9,"x":-79.355,"y":43.6596},{"g":"n9","l":9,"x":-79.3616,"y":43.6551},{"g":"n9","l":9,"x":-79.3733,"y":43.6531},{"g":"n9","l":9,"x":-79.3832,"y":43.6556},{"g":"n9","l":9,"x":-79.3865,"y":43.6596},{"g":"n9","l":9,"x":-79.3799,"y":43.664}]
},
"spacing":15,
"hconcat":[
{"spacing":-4,"vconcat":[
{"width":627,"height":73,"view":{"fill":"#d9d9d9","stroke":null},"data":{"values":[{"t":"PRIVATE"}]},"mark":{"type":"text","fontSize":37.5,"color":"#1a1a1a"},"encoding":{"text":{"field":"t"}}},
{"width":627,"height":1301,"view":{"fill":"white","stroke":"#7f7f7f","strokeWidth":2.5},
"encoding":{"x":{"field":"x","type":"quantitative","scale":{"domain":[-79.638,-79.125],"nice":false,"zero":false},"axis":{"values":[-79.6,-79.5,-79.4,-79.3,-79.2],"format":".1f","title":null}},"y":{"field":"y","type":"quantitative","scale":{"domain":[43.5775,43.8254],"nice":false,"zero":false},"axis":{"values":[43.6,43.65,43.7,43.75,43.8],"format":".2f","title":"Latitude"}}},
"layer":[
{"data":{"name":"pa"},"mark":{"type":"circle","size":300,"opacity":1},"encoding":{"color":{"field":"w","type":"quantitative","scale":{"scheme":"viridis","domain":[1,44]},"legend":null}}},
{"data":{"name":"ca"},"transform":[{"filter":"datum.l==1"}],"mark":{"type":"line","interpolate":"cardinal-closed","stroke":null},"encoding":{"detail":{"field":"g"},"order":{"value":null},"fill":{"value":"#0b2d67"},"fillOpacity":{"value":0.5}}},
{"data":{"name":"ca"},"transform":[{"filter":"datum.l==0"}],"mark":{"type":"line","interpolate":"cardinal-closed","stroke":null},"encoding":{"detail":{"field":"g"},"order":{"value":null},"fill":{"value":"white"}}},
{"data":{"name":"inv"},"mark":{"type":"rect","color":"white","blend":"difference"},"encoding":{"x2":{"field":"x2"},"y2":{"field":"y2"}}},
{"data":{"name":"ca"},"transform":[{"filter":"datum.l>=2"}],"mark":{"type":"line","interpolate":"cardinal-closed","stroke":null,"blend":"difference"},"encoding":{"detail":{"field":"g"},"order":{"value":null},"fill":{"field":"l","type":"ordinal","legend":null,"scale":{"domain":[2,3,4,5,6,7,8,9],"range":["#00121c","#0d0e0c","#0d0e06","#171009","#160d06","#1a0d07","#0d0703","#0a0502"]}}}},
{"data":{"name":"inv"},"mark":{"type":"rect","color":"white","blend":"difference"},"encoding":{"x2":{"field":"x2"},"y2":{"field":"y2"}}},
{"data":{"name":"ca"},"mark":{"type":"line","interpolate":"cardinal-closed","strokeWidth":3},"encoding":{"detail":{"field":"g"},"order":{"value":null},"stroke":{"field":"l","type":"ordinal","legend":null,"scale":{"domain":[-1,0,1,2,3,4,5,6,7,8,9],"range":["#12304f","#060f20","#060f20","#0e2a47","#1a3a5a","#2e4e6a","#46607a","#5e6d7c","#667380","#667380","#667380"]}}}},
{"data":{"name":"gt"},"mark":{"type":"tick","orient":"vertical","size":7,"thickness":2,"color":"white","opacity":1}},
{"data":{"name":"gr"},"mark":{"type":"tick","orient":"horizontal","size":7,"thickness":2,"color":"white","opacity":1}}
]}]},
{"spacing":-4,"vconcat":[
{"width":627,"height":73,"view":{"fill":"#d9d9d9","stroke":null},"data":{"values":[{"t":"SOCIAL HOUSING"}]},"mark":{"type":"text","fontSize":37.5,"color":"#1a1a1a"},"encoding":{"text":{"field":"t"}}},
{"width":627,"height":1301,"view":{"fill":"white","stroke":"#7f7f7f","strokeWidth":2.5},
"encoding":{"x":{"field":"x","type":"quantitative","scale":{"domain":[-79.638,-79.125],"nice":false,"zero":false},"axis":{"values":[-79.6,-79.5,-79.4,-79.3,-79.2],"format":".1f","title":"Longitude"}},"y":{"field":"y","type":"quantitative","scale":{"domain":[43.5775,43.8254],"nice":false,"zero":false},"axis":null}},
"layer":[
{"data":{"name":"pb"},"mark":{"type":"circle","size":300,"opacity":1},"encoding":{"color":{"field":"w","type":"quantitative","scale":{"scheme":"viridis","domain":[1,44]},"legend":null}}},
{"data":{"name":"cb"},"transform":[{"filter":"datum.l==1"}],"mark":{"type":"line","interpolate":"cardinal-closed","stroke":null},"encoding":{"detail":{"field":"g"},"order":{"value":null},"fill":{"value":"#0b2d67"},"fillOpacity":{"value":0.5}}},
{"data":{"name":"inv"},"mark":{"type":"rect","color":"white","blend":"difference"},"encoding":{"x2":{"field":"x2"},"y2":{"field":"y2"}}},
{"data":{"name":"cb"},"transform":[{"filter":"datum.l>=2"}],"mark":{"type":"line","interpolate":"cardinal-closed","stroke":null,"blend":"difference"},"encoding":{"detail":{"field":"g"},"order":{"value":null},"fill":{"field":"l","type":"ordinal","legend":null,"scale":{"domain":[2,3,4,5,6,7,8,9],"range":["#00121c","#0d0e0c","#0d0e06","#171009","#160d06","#1a0d07","#0d0703","#0a0502"]}}}},
{"data":{"name":"inv"},"mark":{"type":"rect","color":"white","blend":"difference"},"encoding":{"x2":{"field":"x2"},"y2":{"field":"y2"}}},
{"data":{"name":"cb"},"mark":{"type":"line","interpolate":"cardinal-closed","strokeWidth":3},"encoding":{"detail":{"field":"g"},"order":{"value":null},"stroke":{"field":"l","type":"ordinal","legend":null,"scale":{"domain":[-1,0,1,2,3,4,5,6,7,8,9],"range":["#12304f","#060f20","#060f20","#0e2a47","#1a3a5a","#2e4e6a","#46607a","#5e6d7c","#667380","#667380","#667380"]}}}},
{"data":{"name":"gt"},"mark":{"type":"tick","orient":"vertical","size":7,"thickness":2,"color":"white","opacity":1}},
{"data":{"name":"gr"},"mark":{"type":"tick","orient":"horizontal","size":7,"thickness":2,"color":"white","opacity":1}}
]}]},
{"spacing":-4,"vconcat":[
{"width":627,"height":73,"view":{"fill":"#d9d9d9","stroke":null},"data":{"values":[{"t":"TCHC"}]},"mark":{"type":"text","fontSize":37.5,"color":"#1a1a1a"},"encoding":{"text":{"field":"t"}}},
{"width":627,"height":1301,"view":{"fill":"white","stroke":"#7f7f7f","strokeWidth":2.5},
"encoding":{"x":{"field":"x","type":"quantitative","scale":{"domain":[-79.638,-79.125],"nice":false,"zero":false},"axis":{"values":[-79.6,-79.5,-79.4,-79.3,-79.2],"format":".1f","title":null}},"y":{"field":"y","type":"quantitative","scale":{"domain":[43.5775,43.8254],"nice":false,"zero":false},"axis":null}},
"layer":[
{"data":{"name":"pc"},"mark":{"type":"circle","size":300,"opacity":1},"encoding":{"color":{"field":"w","type":"quantitative","scale":{"scheme":"viridis","domain":[1,44]},"legend":null}}},
{"data":{"name":"cc"},"transform":[{"filter":"datum.l==1"}],"mark":{"type":"line","interpolate":"cardinal-closed","stroke":null},"encoding":{"detail":{"field":"g"},"order":{"value":null},"fill":{"value":"#0b2d67"},"fillOpacity":{"value":0.5}}},
{"data":{"name":"inv"},"mark":{"type":"rect","color":"white","blend":"difference"},"encoding":{"x2":{"field":"x2"},"y2":{"field":"y2"}}},
{"data":{"name":"cc"},"transform":[{"filter":"datum.l>=2"}],"mark":{"type":"line","interpolate":"cardinal-closed","stroke":null,"blend":"difference"},"encoding":{"detail":{"field":"g"},"order":{"value":null},"fill":{"field":"l","type":"ordinal","legend":null,"scale":{"domain":[2,3,4,5,6,7,8,9],"range":["#00121c","#0d0e0c","#0d0e06","#171009","#160d06","#1a0d07","#0d0703","#0a0502"]}}}},
{"data":{"name":"inv"},"mark":{"type":"rect","color":"white","blend":"difference"},"encoding":{"x2":{"field":"x2"},"y2":{"field":"y2"}}},
{"data":{"name":"cc"},"mark":{"type":"line","interpolate":"cardinal-closed","strokeWidth":3},"encoding":{"detail":{"field":"g"},"order":{"value":null},"stroke":{"field":"l","type":"ordinal","legend":null,"scale":{"domain":[-1,0,1,2,3,4,5,6,7,8,9],"range":["#12304f","#060f20","#060f20","#0e2a47","#1a3a5a","#2e4e6a","#46607a","#5e6d7c","#667380","#667380","#667380"]}}}},
{"data":{"name":"gt"},"mark":{"type":"tick","orient":"vertical","size":7,"thickness":2,"color":"white","opacity":1}},
{"data":{"name":"gr"},"mark":{"type":"tick","orient":"horizontal","size":7,"thickness":2,"color":"white","opacity":1}}
]}]}
]}
